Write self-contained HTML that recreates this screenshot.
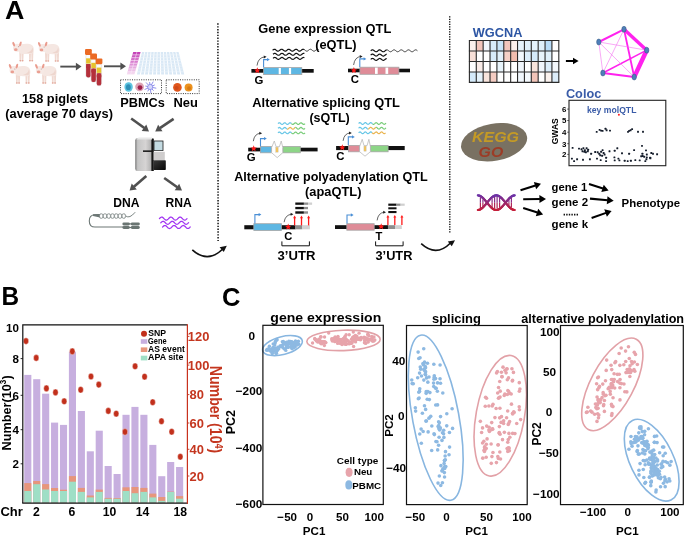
<!DOCTYPE html>
<html><head><meta charset="utf-8"><style>
html,body{margin:0;padding:0;background:#fff;width:685px;height:536px;overflow:hidden;}
svg{display:block;font-family:"Liberation Sans", sans-serif;filter:blur(0.25px);}
</style></head><body><svg width="685" height="536" viewBox="0 0 685 536" font-family='"Liberation Sans", sans-serif'><text x="5.0" y="19" font-size="25" font-weight="bold" font-style="normal" fill="#000" text-anchor="start" textLength="19.4" lengthAdjust="spacingAndGlyphs" >A</text><text x="1.6" y="305.2" font-size="25" font-weight="bold" font-style="normal" fill="#000" text-anchor="start" textLength="17.6" lengthAdjust="spacingAndGlyphs" >B</text><text x="222.0" y="306.1" font-size="25" font-weight="bold" font-style="normal" fill="#000" text-anchor="start" textLength="18.4" lengthAdjust="spacingAndGlyphs" >C</text><g transform="translate(11.5,40.8) scale(1.0)"><path d="M7.8 11.5 L10.0 11.5 L9.6 20.3 L8.1 20.3 Z" fill="#f0d9d1"/><ellipse cx="8.85" cy="20.0" rx="1.0" ry="0.7" fill="#e2a597"/><path d="M10.0 11.5 L12.2 11.5 L11.8 20.3 L10.3 20.3 Z" fill="#f0d9d1"/><ellipse cx="11.05" cy="20.0" rx="1.0" ry="0.7" fill="#e2a597"/><path d="M17.4 10.8 L19.599999999999998 10.8 L19.2 20.3 L17.7 20.3 Z" fill="#f0d9d1"/><ellipse cx="18.45" cy="20.0" rx="1.0" ry="0.7" fill="#e2a597"/><path d="M19.7 10.8 L21.9 10.8 L21.5 20.3 L20.0 20.3 Z" fill="#f0d9d1"/><ellipse cx="20.75" cy="20.0" rx="1.0" ry="0.7" fill="#e2a597"/><path d="M6.5 5.2 C9.5 2.6 17.5 2.0 20.6 4.4 C22.8 6.3 22.8 10.6 21.2 12.4 C18 13.6 12 13.4 8.6 12.6 C6.8 10.8 6 7.5 6.5 5.2 Z" fill="#f5e7e2"/><path d="M15 11.8 C18 12.4 20 12.2 21.2 11.6 C21.9 9.6 21.6 7.6 20.8 6.6 C20.4 9.5 18.5 11 15 11.8 Z" fill="#eed6ce"/><ellipse cx="5.6" cy="7.0" rx="4.1" ry="4.0" fill="#f6e9e5"/><ellipse cx="2.2" cy="3.4" rx="1.1" ry="2.5" transform="rotate(-22 2.2 3.4)" fill="#ea9c8e"/><ellipse cx="8.9" cy="3.2" rx="1.1" ry="2.5" transform="rotate(18 8.9 3.2)" fill="#ea9c8e"/><ellipse cx="4.3" cy="8.9" rx="1.8" ry="1.35" fill="#ea9f92"/><circle cx="6.9" cy="6.0" r="0.45" fill="#8a6a64"/></g><g transform="translate(37.2,41.0) scale(1.0)"><path d="M7.8 11.5 L10.0 11.5 L9.6 20.3 L8.1 20.3 Z" fill="#f0d9d1"/><ellipse cx="8.85" cy="20.0" rx="1.0" ry="0.7" fill="#e2a597"/><path d="M10.0 11.5 L12.2 11.5 L11.8 20.3 L10.3 20.3 Z" fill="#f0d9d1"/><ellipse cx="11.05" cy="20.0" rx="1.0" ry="0.7" fill="#e2a597"/><path d="M17.4 10.8 L19.599999999999998 10.8 L19.2 20.3 L17.7 20.3 Z" fill="#f0d9d1"/><ellipse cx="18.45" cy="20.0" rx="1.0" ry="0.7" fill="#e2a597"/><path d="M19.7 10.8 L21.9 10.8 L21.5 20.3 L20.0 20.3 Z" fill="#f0d9d1"/><ellipse cx="20.75" cy="20.0" rx="1.0" ry="0.7" fill="#e2a597"/><path d="M6.5 5.2 C9.5 2.6 17.5 2.0 20.6 4.4 C22.8 6.3 22.8 10.6 21.2 12.4 C18 13.6 12 13.4 8.6 12.6 C6.8 10.8 6 7.5 6.5 5.2 Z" fill="#f5e7e2"/><path d="M15 11.8 C18 12.4 20 12.2 21.2 11.6 C21.9 9.6 21.6 7.6 20.8 6.6 C20.4 9.5 18.5 11 15 11.8 Z" fill="#eed6ce"/><ellipse cx="5.6" cy="7.0" rx="4.1" ry="4.0" fill="#f6e9e5"/><ellipse cx="2.2" cy="3.4" rx="1.1" ry="2.5" transform="rotate(-22 2.2 3.4)" fill="#ea9c8e"/><ellipse cx="8.9" cy="3.2" rx="1.1" ry="2.5" transform="rotate(18 8.9 3.2)" fill="#ea9c8e"/><ellipse cx="4.3" cy="8.9" rx="1.8" ry="1.35" fill="#ea9f92"/><circle cx="6.9" cy="6.0" r="0.45" fill="#8a6a64"/></g><g transform="translate(8.0,63.0) scale(1.0)"><path d="M7.8 11.5 L10.0 11.5 L9.6 20.3 L8.1 20.3 Z" fill="#f0d9d1"/><ellipse cx="8.85" cy="20.0" rx="1.0" ry="0.7" fill="#e2a597"/><path d="M10.0 11.5 L12.2 11.5 L11.8 20.3 L10.3 20.3 Z" fill="#f0d9d1"/><ellipse cx="11.05" cy="20.0" rx="1.0" ry="0.7" fill="#e2a597"/><path d="M17.4 10.8 L19.599999999999998 10.8 L19.2 20.3 L17.7 20.3 Z" fill="#f0d9d1"/><ellipse cx="18.45" cy="20.0" rx="1.0" ry="0.7" fill="#e2a597"/><path d="M19.7 10.8 L21.9 10.8 L21.5 20.3 L20.0 20.3 Z" fill="#f0d9d1"/><ellipse cx="20.75" cy="20.0" rx="1.0" ry="0.7" fill="#e2a597"/><path d="M6.5 5.2 C9.5 2.6 17.5 2.0 20.6 4.4 C22.8 6.3 22.8 10.6 21.2 12.4 C18 13.6 12 13.4 8.6 12.6 C6.8 10.8 6 7.5 6.5 5.2 Z" fill="#f5e7e2"/><path d="M15 11.8 C18 12.4 20 12.2 21.2 11.6 C21.9 9.6 21.6 7.6 20.8 6.6 C20.4 9.5 18.5 11 15 11.8 Z" fill="#eed6ce"/><ellipse cx="5.6" cy="7.0" rx="4.1" ry="4.0" fill="#f6e9e5"/><ellipse cx="2.2" cy="3.4" rx="1.1" ry="2.5" transform="rotate(-22 2.2 3.4)" fill="#ea9c8e"/><ellipse cx="8.9" cy="3.2" rx="1.1" ry="2.5" transform="rotate(18 8.9 3.2)" fill="#ea9c8e"/><ellipse cx="4.3" cy="8.9" rx="1.8" ry="1.35" fill="#ea9f92"/><circle cx="6.9" cy="6.0" r="0.45" fill="#8a6a64"/></g><g transform="translate(34.3,63.0) scale(1.0)"><path d="M7.8 11.5 L10.0 11.5 L9.6 20.3 L8.1 20.3 Z" fill="#f0d9d1"/><ellipse cx="8.85" cy="20.0" rx="1.0" ry="0.7" fill="#e2a597"/><path d="M10.0 11.5 L12.2 11.5 L11.8 20.3 L10.3 20.3 Z" fill="#f0d9d1"/><ellipse cx="11.05" cy="20.0" rx="1.0" ry="0.7" fill="#e2a597"/><path d="M17.4 10.8 L19.599999999999998 10.8 L19.2 20.3 L17.7 20.3 Z" fill="#f0d9d1"/><ellipse cx="18.45" cy="20.0" rx="1.0" ry="0.7" fill="#e2a597"/><path d="M19.7 10.8 L21.9 10.8 L21.5 20.3 L20.0 20.3 Z" fill="#f0d9d1"/><ellipse cx="20.75" cy="20.0" rx="1.0" ry="0.7" fill="#e2a597"/><path d="M6.5 5.2 C9.5 2.6 17.5 2.0 20.6 4.4 C22.8 6.3 22.8 10.6 21.2 12.4 C18 13.6 12 13.4 8.6 12.6 C6.8 10.8 6 7.5 6.5 5.2 Z" fill="#f5e7e2"/><path d="M15 11.8 C18 12.4 20 12.2 21.2 11.6 C21.9 9.6 21.6 7.6 20.8 6.6 C20.4 9.5 18.5 11 15 11.8 Z" fill="#eed6ce"/><ellipse cx="5.6" cy="7.0" rx="4.1" ry="4.0" fill="#f6e9e5"/><ellipse cx="2.2" cy="3.4" rx="1.1" ry="2.5" transform="rotate(-22 2.2 3.4)" fill="#ea9c8e"/><ellipse cx="8.9" cy="3.2" rx="1.1" ry="2.5" transform="rotate(18 8.9 3.2)" fill="#ea9c8e"/><ellipse cx="4.3" cy="8.9" rx="1.8" ry="1.35" fill="#ea9f92"/><circle cx="6.9" cy="6.0" r="0.45" fill="#8a6a64"/></g><line x1="60.30" y1="66.60" x2="76.40" y2="66.60" stroke="#505050" stroke-width="1.9"/><polygon points="81.50,66.60 75.90,70.40 75.90,62.80" fill="#505050"/><rect x="85.8" y="54.1" width="5.2" height="23.5" rx="2.3" fill="#fafafa" stroke="#d8d8d8" stroke-width="0.5"/><rect x="86.1" y="64.0" width="4.6" height="13.4" rx="2.2" fill="#b4303b"/><rect x="86.1" y="64.0" width="4.6" height="4" fill="#b4303b"/><rect x="86.1" y="58.3" width="4.6" height="5.3" fill="#e6c22f"/><rect x="85.0" y="49.1" width="6.8" height="5.8" rx="1.1" fill="#eb6a24"/><rect x="91.0" y="58.6" width="5.2" height="23.7" rx="2.3" fill="#fafafa" stroke="#d8d8d8" stroke-width="0.5"/><rect x="91.3" y="68.5" width="4.6" height="13.6" rx="2.2" fill="#b4303b"/><rect x="91.3" y="68.5" width="4.6" height="4" fill="#b4303b"/><rect x="91.3" y="62.8" width="4.6" height="5.3" fill="#e6c22f"/><rect x="90.2" y="53.6" width="6.8" height="5.8" rx="1.1" fill="#eb6a24"/><rect x="96.39999999999999" y="63.4" width="5.2" height="22.4" rx="2.3" fill="#fafafa" stroke="#d8d8d8" stroke-width="0.5"/><rect x="96.69999999999999" y="73.3" width="4.6" height="12.299999999999999" rx="2.2" fill="#b4303b"/><rect x="96.69999999999999" y="73.3" width="4.6" height="4" fill="#b4303b"/><rect x="96.69999999999999" y="67.6" width="4.6" height="5.3" fill="#e6c22f"/><rect x="95.6" y="58.4" width="6.8" height="5.8" rx="1.1" fill="#eb6a24"/><line x1="104.00" y1="66.30" x2="120.90" y2="66.30" stroke="#505050" stroke-width="1.9"/><polygon points="126.00,66.30 120.40,70.10 120.40,62.50" fill="#505050"/><defs><linearGradient id="plg" x1="0" y1="0" x2="0" y2="1"><stop offset="0" stop-color="#c23cb4"/><stop offset="0.5" stop-color="#dc8ad4"/><stop offset="1" stop-color="#f6e0f2"/></linearGradient></defs><polygon points="142.05,52.0 144.35,52.0 139.85,74.6 136.95,74.6" fill="#d9e8f5"/><polygon points="145.16,52.0 147.46,52.0 143.89,74.6 140.99,74.6" fill="#d9e8f5"/><polygon points="148.27,52.0 150.57,52.0 147.92,74.6 145.02,74.6" fill="#d9e8f5"/><polygon points="151.38,52.0 153.68,52.0 151.96,74.6 149.06,74.6" fill="#d9e8f5"/><polygon points="154.49,52.0 156.79,52.0 156.00,74.6 153.10,74.6" fill="#d9e8f5"/><polygon points="157.60,52.0 159.90,52.0 160.03,74.6 157.13,74.6" fill="#d9e8f5"/><polygon points="160.70,52.0 163.00,52.0 164.07,74.6 161.17,74.6" fill="#d9e8f5"/><polygon points="163.81,52.0 166.11,52.0 168.10,74.6 165.20,74.6" fill="#d9e8f5"/><polygon points="166.92,52.0 169.22,52.0 172.14,74.6 169.24,74.6" fill="#d9e8f5"/><polygon points="170.03,52.0 172.33,52.0 176.18,74.6 173.28,74.6" fill="#d9e8f5"/><polygon points="173.14,52.0 175.44,52.0 180.21,74.6 177.31,74.6" fill="#d9e8f5"/><polygon points="176.25,52.0 178.55,52.0 184.25,74.6 181.35,74.6" fill="#d9e8f5"/><line x1="140.89" y1="54.83" x2="179.70" y2="54.83" stroke="#eef5fb" stroke-width="0.6"/><line x1="140.28" y1="57.65" x2="180.40" y2="57.65" stroke="#eef5fb" stroke-width="0.6"/><line x1="139.66" y1="60.47" x2="181.10" y2="60.47" stroke="#eef5fb" stroke-width="0.6"/><line x1="139.05" y1="63.30" x2="181.80" y2="63.30" stroke="#eef5fb" stroke-width="0.6"/><line x1="138.44" y1="66.12" x2="182.50" y2="66.12" stroke="#eef5fb" stroke-width="0.6"/><line x1="137.82" y1="68.95" x2="183.20" y2="68.95" stroke="#eef5fb" stroke-width="0.6"/><line x1="137.21" y1="71.77" x2="183.90" y2="71.77" stroke="#eef5fb" stroke-width="0.6"/><polygon points="133.2,52.0 140.6,52.0 134.4,74.6 126.8,74.6" fill="url(#plg)"/><line x1="132.40" y1="54.83" x2="139.82" y2="54.83" stroke="#fbeefa" stroke-width="0.6"/><line x1="131.60" y1="57.65" x2="139.05" y2="57.65" stroke="#fbeefa" stroke-width="0.6"/><line x1="130.80" y1="60.47" x2="138.28" y2="60.47" stroke="#fbeefa" stroke-width="0.6"/><line x1="130.00" y1="63.30" x2="137.50" y2="63.30" stroke="#fbeefa" stroke-width="0.6"/><line x1="129.20" y1="66.12" x2="136.72" y2="66.12" stroke="#fbeefa" stroke-width="0.6"/><line x1="128.40" y1="68.95" x2="135.95" y2="68.95" stroke="#fbeefa" stroke-width="0.6"/><line x1="127.60" y1="71.77" x2="135.18" y2="71.77" stroke="#fbeefa" stroke-width="0.6"/><line x1="136.9" y1="52" x2="130.6" y2="74.6" stroke="#fbeefa" stroke-width="0.5"/><rect x="120.5" y="79.8" width="41" height="13.8" fill="none" stroke="#333" stroke-width="1" stroke-dasharray="1 1.3"/><rect x="166.2" y="79.8" width="33" height="13.8" fill="none" stroke="#333" stroke-width="1" stroke-dasharray="1 1.3"/><ellipse cx="128.6" cy="87" rx="4.2" ry="4.8" fill="#5ec4e0"/><ellipse cx="128.4" cy="87.2" rx="2.4" ry="2.9" fill="#2f8fb6"/><circle cx="139.6" cy="86.8" r="4.4" fill="#dca3b5"/><circle cx="140" cy="87.6" r="2.4" fill="#9e1f4b"/><line x1="150.2" y1="87" x2="156.28" y2="88.23" stroke="#7474e4" stroke-width="0.8"/><line x1="150.2" y1="87" x2="153.58" y2="90.68" stroke="#7474e4" stroke-width="0.8"/><line x1="150.2" y1="87" x2="150.91" y2="93.16" stroke="#7474e4" stroke-width="0.8"/><line x1="150.2" y1="87" x2="147.74" y2="91.35" stroke="#7474e4" stroke-width="0.8"/><line x1="150.2" y1="87" x2="144.56" y2="89.58" stroke="#7474e4" stroke-width="0.8"/><line x1="150.2" y1="87" x2="145.30" y2="86.01" stroke="#7474e4" stroke-width="0.8"/><line x1="150.2" y1="87" x2="146.01" y2="82.43" stroke="#7474e4" stroke-width="0.8"/><line x1="150.2" y1="87" x2="149.63" y2="82.03" stroke="#7474e4" stroke-width="0.8"/><line x1="150.2" y1="87" x2="153.25" y2="81.60" stroke="#7474e4" stroke-width="0.8"/><line x1="150.2" y1="87" x2="154.75" y2="84.92" stroke="#7474e4" stroke-width="0.8"/><circle cx="150.2" cy="87" r="2.6" fill="#d6d8fa" stroke="#7c7ce6" stroke-width="0.7"/><circle cx="177.4" cy="87.4" r="4.3" fill="#e0561c"/><circle cx="176.6" cy="88" r="2" fill="#c8441a" opacity="0.7"/><circle cx="188.6" cy="87.4" r="4.0" fill="#ec921e"/><circle cx="189" cy="88.2" r="1.9" fill="#d27410" opacity="0.8"/><text x="22.0" y="103.4" font-size="12.6" font-weight="bold" font-style="normal" fill="#000" text-anchor="start" textLength="66.0" lengthAdjust="spacingAndGlyphs" >158 piglets</text><text x="5.3" y="118.0" font-size="12.7" font-weight="bold" font-style="normal" fill="#000" text-anchor="start" textLength="107.6" lengthAdjust="spacingAndGlyphs" >(average 70 days)</text><text x="120.2" y="107.1" font-size="12.4" font-weight="bold" font-style="normal" fill="#000" text-anchor="start" textLength="44.6" lengthAdjust="spacingAndGlyphs" >PBMCs</text><text x="173.4" y="107.1" font-size="12.5" font-weight="bold" font-style="normal" fill="#000" text-anchor="start" textLength="24.4" lengthAdjust="spacingAndGlyphs" >Neu</text><line x1="131.20" y1="118.50" x2="144.38" y2="128.06" stroke="#505050" stroke-width="2.6"/><polygon points="149.00,131.40 141.69,130.92 146.27,124.60" fill="#505050"/><line x1="173.60" y1="118.90" x2="159.91" y2="128.20" stroke="#505050" stroke-width="2.6"/><polygon points="155.20,131.40 158.14,124.69 162.52,131.14" fill="#505050"/>
<defs>
<linearGradient id="sqg" x1="0" x2="1" y1="0" y2="0">
<stop offset="0" stop-color="#7a7a7a"/><stop offset="0.14" stop-color="#c4c4c4"/><stop offset="0.6" stop-color="#d6d4d4"/><stop offset="1" stop-color="#a9a9a9"/></linearGradient>
<linearGradient id="sqb" x1="0" x2="1" y1="0" y2="1">
<stop offset="0" stop-color="#3a3a3a"/><stop offset="1" stop-color="#050505"/></linearGradient>
</defs>
<path d="M135.2 140.5 Q135.2 138 137.5 138 L152.6 138 L152.6 171 L137.5 171 Q135.2 171 135.2 168.5 Z" fill="url(#sqg)"/>
<rect x="151.4" y="138.6" width="2.4" height="32.4" fill="#151515"/>
<rect x="153.6" y="140.6" width="9.8" height="10.3" fill="#1a1a1a"/>
<rect x="154.4" y="141.4" width="8.2" height="8.8" fill="#c4dbe2"/>
<rect x="153.6" y="151.8" width="11.2" height="8.2" fill="#cfcdcd"/>
<rect x="153.6" y="160.2" width="12.2" height="9.8" rx="0.8" fill="url(#sqb)"/>
<rect x="143" y="150.4" width="9" height="1.5" fill="#111"/>
<path d="M136.5 139.2 L138.6 137.6 L152 137.6 L152 139.6 L137 139.6 Z" fill="#e8e8e8"/>
<line x1="146.30" y1="176.00" x2="133.89" y2="186.85" stroke="#505050" stroke-width="2.6"/><polygon points="129.60,190.60 131.70,183.58 136.83,189.46" fill="#505050"/><line x1="164.20" y1="178.00" x2="177.35" y2="187.31" stroke="#505050" stroke-width="2.6"/><polygon points="182.00,190.60 174.69,190.20 179.19,183.83" fill="#505050"/><text x="113.2" y="206.8" font-size="12.1" font-weight="bold" font-style="normal" fill="#000" text-anchor="start" >DNA</text><text x="165.6" y="206.8" font-size="12.1" font-weight="bold" font-style="normal" fill="#000" text-anchor="start" >RNA</text><g stroke="#6c7775" fill="none"><path d="M100 214.8 L95 214.8 Q89.3 214.8 89.3 220.9 Q89.3 227 95 227 L123 227" stroke-width="1.1"/><path d="M93 214.3 L100 213.9 L100 217.6 L93 216" fill="#6c7775" stroke="none"/><rect x="99.60" y="213.8" width="3.3" height="4.5" rx="1.4" fill="#fff" stroke-width="0.75"/><rect x="103.35" y="213.8" width="3.3" height="4.5" rx="1.4" fill="#fff" stroke-width="0.75"/><rect x="107.10" y="213.8" width="3.3" height="4.5" rx="1.4" fill="#fff" stroke-width="0.75"/><rect x="110.85" y="213.8" width="3.3" height="4.5" rx="1.4" fill="#fff" stroke-width="0.75"/><rect x="114.60" y="213.8" width="3.3" height="4.5" rx="1.4" fill="#fff" stroke-width="0.75"/><rect x="118.35" y="213.8" width="3.3" height="4.5" rx="1.4" fill="#fff" stroke-width="0.75"/><rect x="122.10" y="213.8" width="3.3" height="4.5" rx="1.4" fill="#fff" stroke-width="0.75"/><path d="M125.8 216.0 Q129.5 219.0 135.2 212.2" stroke-width="0.9"/></g><g fill="#6a7572"><rect x="122.4" y="222.4" width="7.4" height="3.0" rx="1.4"/><rect x="130.8" y="222.4" width="9.0" height="3.0" rx="1.4"/><rect x="122.4" y="226.0" width="7.4" height="3.0" rx="1.4"/><rect x="130.8" y="226.0" width="9.0" height="3.0" rx="1.4"/><rect x="129" y="223.3" width="2.6" height="1.2"/><rect x="129" y="226.9" width="2.6" height="1.2"/></g><polyline points="159.40,218.60 159.81,218.19 160.21,217.81 160.62,217.49 161.02,217.26 161.43,217.13 161.84,217.11 162.24,217.20 162.65,217.40 163.05,217.70 163.46,218.06 163.86,218.46 164.27,218.88 164.68,219.27 165.08,219.61 165.49,219.88 165.89,220.04 166.30,220.10 166.71,220.04 167.11,219.88 167.52,219.61 167.92,219.27 168.33,218.88 168.74,218.46 169.14,218.06 169.55,217.70 169.95,217.40 170.36,217.20 170.76,217.11 171.17,217.13 171.58,217.26 171.98,217.49 172.39,217.81 172.79,218.19 173.20,218.60 173.61,219.01 174.01,219.39 174.42,219.71 174.82,219.94 175.23,220.07 175.64,220.09 176.04,220.00 176.45,219.80 176.85,219.50 177.26,219.14 177.66,218.74 178.07,218.32 178.48,217.93 178.88,217.59 179.29,217.32 179.69,217.16 180.10,217.10 180.51,217.16 180.91,217.32 181.32,217.59 181.72,217.93 182.13,218.32 182.54,218.74 182.94,219.14 183.35,219.50 183.75,219.80 184.16,220.00 184.56,220.09 184.97,220.07 185.38,219.94 185.78,219.71 186.19,219.39 186.59,219.01 187.00,218.60" fill="none" stroke="#a133f2" stroke-width="1.25" stroke-linecap="round"/><polyline points="160.80,222.80 161.20,222.39 161.61,222.02 162.01,221.70 162.41,221.46 162.81,221.33 163.22,221.30 163.62,221.39 164.02,221.59 164.43,221.87 164.83,222.23 165.23,222.63 165.63,223.04 166.04,223.43 166.44,223.78 166.84,224.05 167.25,224.23 167.65,224.30 168.05,224.26 168.46,224.10 168.86,223.85 169.26,223.53 169.66,223.14 170.07,222.73 170.47,222.33 170.87,221.96 171.28,221.65 171.68,221.43 172.08,221.32 172.48,221.31 172.89,221.42 173.29,221.63 173.69,221.93 174.10,222.29 174.50,222.70 174.90,223.11 175.30,223.49 175.71,223.83 176.11,224.09 176.51,224.25 176.92,224.30 177.32,224.24 177.72,224.07 178.12,223.81 178.53,223.46 178.93,223.07 179.33,222.66 179.74,222.26 180.14,221.90 180.54,221.61 180.94,221.41 181.35,221.31 181.75,221.32 182.15,221.45 182.56,221.67 182.96,221.99 183.36,222.36 183.77,222.76 184.17,223.17 184.57,223.55 184.97,223.88 185.38,224.12 185.78,224.26 186.18,224.30 186.59,224.22 186.99,224.03 187.39,223.75 187.79,223.40 188.20,223.01 188.60,222.60" fill="none" stroke="#a133f2" stroke-width="1.25" stroke-linecap="round"/><polyline points="162.60,227.00 163.01,226.59 163.41,226.21 163.82,225.89 164.22,225.66 164.63,225.53 165.04,225.51 165.44,225.60 165.85,225.80 166.25,226.10 166.66,226.46 167.06,226.86 167.47,227.28 167.88,227.67 168.28,228.01 168.69,228.28 169.09,228.44 169.50,228.50 169.91,228.44 170.31,228.28 170.72,228.01 171.12,227.67 171.53,227.28 171.94,226.86 172.34,226.46 172.75,226.10 173.15,225.80 173.56,225.60 173.96,225.51 174.37,225.53 174.78,225.66 175.18,225.89 175.59,226.21 175.99,226.59 176.40,227.00 176.81,227.41 177.21,227.79 177.62,228.11 178.02,228.34 178.43,228.47 178.84,228.49 179.24,228.40 179.65,228.20 180.05,227.90 180.46,227.54 180.86,227.14 181.27,226.72 181.68,226.33 182.08,225.99 182.49,225.72 182.89,225.56 183.30,225.50 183.71,225.56 184.11,225.72 184.52,225.99 184.92,226.33 185.33,226.72 185.74,227.14 186.14,227.54 186.55,227.90 186.95,228.20 187.36,228.40 187.76,228.49 188.17,228.47 188.58,228.34 188.98,228.11 189.39,227.79 189.79,227.41 190.20,227.00" fill="none" stroke="#a133f2" stroke-width="1.25" stroke-linecap="round"/><line x1="217.9" y1="23.3" x2="218.1" y2="241" stroke="#111" stroke-width="1.5" stroke-dasharray="1.4 1.45"/><line x1="449.7" y1="16.2" x2="449.8" y2="233.8" stroke="#111" stroke-width="1.4" stroke-dasharray="1.2 1.3"/><path d="M192.3 249.8 Q207.60 263.70 222.5 249.2" fill="none" stroke="#111" stroke-width="1.6"/><polygon points="226.8,245.8 219.6,247.2 223.8,252.0" fill="#111"/><path d="M421.2 243.7 Q436.15 257.45 450.5 243.0" fill="none" stroke="#111" stroke-width="1.6"/><polygon points="455.0,240.2 447.8,241.4 451.8,246.2" fill="#111"/><text x="258.3" y="32.5" font-size="12.6" font-weight="bold" font-style="normal" fill="#000" text-anchor="start" textLength="133.0" lengthAdjust="spacingAndGlyphs" >Gene expression QTL</text><text x="315.2" y="48.6" font-size="12.6" font-weight="bold" font-style="normal" fill="#000" text-anchor="start" textLength="41.3" lengthAdjust="spacingAndGlyphs" >(eQTL)</text><text x="252.3" y="106.6" font-size="12.6" font-weight="bold" font-style="normal" fill="#000" text-anchor="start" textLength="147.6" lengthAdjust="spacingAndGlyphs" >Alternative splicing QTL</text><text x="309.4" y="122.3" font-size="12.6" font-weight="bold" font-style="normal" fill="#000" text-anchor="start" textLength="40.4" lengthAdjust="spacingAndGlyphs" >(sQTL)</text><text x="234.2" y="181.0" font-size="12.6" font-weight="bold" font-style="normal" fill="#000" text-anchor="start" textLength="193.6" lengthAdjust="spacingAndGlyphs" >Alternative polyadenylation QTL</text><text x="305.1" y="196.1" font-size="12.6" font-weight="bold" font-style="normal" fill="#000" text-anchor="start" textLength="56.4" lengthAdjust="spacingAndGlyphs" >(apaQTL)</text><rect x="251.4" y="69.0" width="62.3" height="3.7" fill="#111"/><rect x="263.60" y="67.60" width="38.20" height="7.00" fill="#5eb7e3" stroke="#a6a6a6" stroke-width="0.8"/><rect x="278.7" y="68.0" width="2.2" height="6.2" fill="#fff"/><rect x="288.9" y="68.0" width="2.2" height="6.2" fill="#fff"/><polygon points="257.30,67.30 258.17,69.40 260.44,69.58 258.71,71.06 259.24,73.27 257.30,72.08 255.36,73.27 255.89,71.06 254.16,69.58 256.43,69.40" fill="#ff1a1a"/><path d="M263.6 67.3 L263.6 59.6 L267.6 59.6" fill="none" stroke="#4a8fd6" stroke-width="1.1"/><polygon points="269.8,59.6 267.0,57.9 267.0,61.300000000000004" fill="#4a8fd6"/><path d="M257.0 65.6 Q258.15 57.24 265.10 56.88" fill="none" stroke="#222" stroke-width="0.7"/><polygon points="266.60,56.80 263.88,58.44 263.73,55.45" fill="#222"/><text x="254.6" y="83.6" font-size="11.4" font-weight="bold" font-style="normal" fill="#000" text-anchor="start" >G</text><polyline points="272.60,50.20 272.95,49.91 273.31,49.65 273.66,49.44 274.01,49.30 274.37,49.25 274.72,49.29 275.07,49.41 275.43,49.61 275.78,49.86 276.13,50.14 276.49,50.44 276.84,50.70 277.19,50.92 277.55,51.08 277.90,51.15 278.25,51.13 278.61,51.02 278.96,50.84 279.31,50.59 279.67,50.31 280.02,50.02 280.37,49.74 280.73,49.51 281.08,49.35 281.43,49.26 281.79,49.26 282.14,49.35 282.49,49.52 282.85,49.76 283.20,50.04 283.55,50.33 283.91,50.61 284.26,50.85 284.61,51.03 284.97,51.13 285.32,51.14 285.67,51.07 286.03,50.91 286.38,50.69 286.73,50.42 287.09,50.13 287.44,49.84 287.79,49.59 288.15,49.40 288.50,49.28 288.85,49.25 289.21,49.31 289.56,49.45 289.91,49.66 290.27,49.93 290.62,50.22 290.97,50.50 291.33,50.76 291.68,50.97 292.03,51.10 292.39,51.15 292.74,51.11 293.09,50.98 293.45,50.78 293.80,50.52 294.15,50.24 294.51,49.95 294.86,49.68 295.21,49.47 295.57,49.32 295.92,49.25 296.27,49.28 296.63,49.39 296.98,49.58 297.33,49.82 297.69,50.11 298.04,50.40 298.39,50.67 298.75,50.90 299.10,51.06 299.45,51.14 299.81,51.13 300.16,51.04 300.51,50.86 300.87,50.63 301.22,50.35 301.57,50.06 301.93,49.78 302.28,49.54 302.63,49.36 302.99,49.27 303.34,49.26 303.69,49.34 304.05,49.50 304.40,49.72" fill="none" stroke="#111" stroke-width="1.2"/><polyline points="304.40,49.73 304.75,50.00 305.11,50.29 305.46,50.58 305.82,50.82 306.17,51.01 306.53,51.12 306.88,51.15 307.24,51.08 307.59,50.93 307.95,50.71 308.31,50.44 308.66,50.15 309.01,49.86 309.37,49.61 309.73,49.41 310.08,49.29 310.44,49.25 310.79,49.30 311.14,49.44 311.50,49.66 311.86,49.92 312.21,50.21 312.56,50.50 312.92,50.76 313.27,50.97 313.63,51.10 313.99,51.15 314.34,51.11 314.69,50.98 315.05,50.78 315.41,50.52 315.76,50.23 316.12,49.94 316.47,49.68 316.83,49.46 317.18,49.31 317.54,49.25 317.89,49.28 318.25,49.40 318.60,49.59" fill="none" stroke="#111" stroke-width="0.85"/><polyline points="273.00,54.30 273.35,54.01 273.71,53.75 274.06,53.54 274.41,53.40 274.76,53.35 275.12,53.39 275.47,53.51 275.82,53.70 276.18,53.96 276.53,54.24 276.88,54.53 277.23,54.80 277.59,55.02 277.94,55.17 278.29,55.25 278.64,55.23 279.00,55.12 279.35,54.94 279.70,54.70 280.06,54.42 280.41,54.13 280.76,53.85 281.11,53.62 281.47,53.45 281.82,53.36 282.17,53.36 282.53,53.45 282.88,53.62 283.23,53.85 283.58,54.12 283.94,54.41 284.29,54.69 284.64,54.94 285.00,55.12 285.35,55.23 285.70,55.25 286.05,55.18 286.41,55.02 286.76,54.80 287.11,54.54 287.47,54.25 287.82,53.96 288.17,53.71 288.52,53.51 288.88,53.39 289.23,53.35 289.58,53.40 289.93,53.54 290.29,53.75 290.64,54.01 290.99,54.29 291.35,54.58 291.70,54.84 292.05,55.05 292.40,55.19 292.76,55.25 293.11,55.22 293.46,55.10 293.82,54.90 294.17,54.65 294.52,54.37 294.87,54.07 295.23,53.81 295.58,53.58 295.93,53.43 296.29,53.35 296.64,53.37 296.99,53.47 297.34,53.65 297.70,53.90 298.05,54.18 298.40,54.47 298.76,54.74 299.11,54.98 299.46,55.15 299.81,55.24 300.17,55.24 300.52,55.15 300.87,54.99 301.22,54.76 301.58,54.48 301.93,54.19 302.28,53.91 302.64,53.67 302.99,53.48 303.34,53.37 303.69,53.35 304.05,53.42 304.40,53.57" fill="none" stroke="#111" stroke-width="1.2"/><polyline points="273.00,58.40 273.35,58.11 273.71,57.85 274.06,57.64 274.41,57.50 274.76,57.45 275.12,57.49 275.47,57.61 275.82,57.80 276.18,58.06 276.53,58.34 276.88,58.63 277.23,58.90 277.59,59.12 277.94,59.27 278.29,59.35 278.64,59.33 279.00,59.22 279.35,59.04 279.70,58.80 280.06,58.52 280.41,58.23 280.76,57.95 281.11,57.72 281.47,57.55 281.82,57.46 282.17,57.46 282.53,57.55 282.88,57.72 283.23,57.95 283.58,58.22 283.94,58.51 284.29,58.79 284.64,59.04 285.00,59.22 285.35,59.33 285.70,59.35 286.05,59.28 286.41,59.12 286.76,58.90 287.11,58.64 287.47,58.35 287.82,58.06 288.17,57.81 288.52,57.61 288.88,57.49 289.23,57.45 289.58,57.50 289.93,57.64 290.29,57.85 290.64,58.11 290.99,58.39 291.35,58.68 291.70,58.94 292.05,59.15 292.40,59.29 292.76,59.35 293.11,59.32 293.46,59.20 293.82,59.00 294.17,58.75 294.52,58.47 294.87,58.17 295.23,57.91 295.58,57.68 295.93,57.53 296.29,57.45 296.64,57.47 296.99,57.57 297.34,57.75 297.70,58.00 298.05,58.28 298.40,58.57 298.76,58.84 299.11,59.08 299.46,59.25 299.81,59.34 300.17,59.34 300.52,59.25 300.87,59.09 301.22,58.86 301.58,58.58 301.93,58.29 302.28,58.01 302.64,57.77 302.99,57.58 303.34,57.47 303.69,57.45 304.05,57.52 304.40,57.67" fill="none" stroke="#111" stroke-width="1.2"/><rect x="348.0" y="68.7" width="62.0" height="3.6" fill="#111"/><rect x="359.90" y="67.20" width="39.00" height="7.10" fill="#df8c98" stroke="#a6a6a6" stroke-width="0.8"/><rect x="375.0" y="67.6" width="2.7" height="6.3" fill="#fff"/><rect x="385.5" y="67.6" width="2.7" height="6.3" fill="#fff"/><polygon points="353.90,67.10 354.77,69.20 357.04,69.38 355.31,70.86 355.84,73.07 353.90,71.89 351.96,73.07 352.49,70.86 350.76,69.38 353.03,69.20" fill="#ff1a1a"/><path d="M359.8 66.9 L359.8 58.9 L364.2 58.9" fill="none" stroke="#4a8fd6" stroke-width="1.1"/><polygon points="366.4,58.9 363.59999999999997,57.199999999999996 363.59999999999997,60.6" fill="#4a8fd6"/><path d="M353.6 65.0 Q354.68 56.83 361.10 56.48" fill="none" stroke="#222" stroke-width="0.7"/><polygon points="362.60,56.40 359.89,58.05 359.72,55.05" fill="#222"/><text x="350.7" y="82.9" font-size="11.4" font-weight="bold" font-style="normal" fill="#000" text-anchor="start" >C</text><polyline points="370.70,50.80 371.06,50.51 371.41,50.25 371.77,50.04 372.12,49.90 372.48,49.85 372.83,49.89 373.19,50.02 373.54,50.22 373.90,50.48 374.26,50.76 374.61,51.05 374.97,51.32 375.32,51.54 375.68,51.69 376.03,51.75 376.39,51.72 376.74,51.60 377.10,51.41 377.46,51.16 377.81,50.87 378.17,50.58 378.52,50.31 378.88,50.08 379.23,49.93 379.59,49.85 379.94,49.87 380.30,49.98 380.66,50.16 381.01,50.41 381.37,50.69 381.72,50.98 382.08,51.26 382.43,51.49 382.79,51.66 383.14,51.74 383.50,51.74 383.86,51.64 384.21,51.47 384.57,51.23 384.92,50.95 385.28,50.65 385.63,50.37 385.99,50.13 386.34,49.96 386.70,49.86" fill="none" stroke="#111" stroke-width="1.2"/><polyline points="386.70,49.86 387.05,49.86 387.41,49.94 387.76,50.10 388.11,50.33 388.46,50.61 388.82,50.90 389.17,51.18 389.52,51.43 389.88,51.61 390.23,51.72 390.58,51.75 390.93,51.68 391.29,51.53 391.64,51.32 391.99,51.05 392.35,50.76 392.70,50.48 393.05,50.22 393.40,50.02 393.76,49.89 394.11,49.85 394.46,49.90 394.82,50.03 395.17,50.23 395.52,50.49 395.87,50.78 396.23,51.07 396.58,51.33 396.93,51.55 397.29,51.69 397.64,51.75 397.99,51.72 398.34,51.60 398.70,51.41 399.05,51.16 399.40,50.88 399.76,50.59 400.11,50.32 400.46,50.09 400.81,49.93 401.17,49.86 401.52,49.87 401.87,49.97 402.23,50.14 402.58,50.38 402.93,50.66 403.29,50.95 403.64,51.23 403.99,51.47 404.34,51.64 404.70,51.74 405.05,51.74 405.40,51.66 405.76,51.50 406.11,51.27 406.46,51.00 406.81,50.71 407.17,50.42 407.52,50.18 407.87,49.99 408.23,49.88 408.58,49.85 408.93,49.92 409.28,50.06 409.64,50.28 409.99,50.55 410.34,50.84 410.70,51.12 411.05,51.38 411.40,51.58 411.75,51.71 412.11,51.75 412.46,51.70 412.81,51.57 413.17,51.37 413.52,51.11 413.87,50.82 414.22,50.53 414.58,50.27 414.93,50.06 415.28,49.91 415.64,49.85 415.99,49.88 416.34,49.99 416.69,50.19 417.05,50.43 417.40,50.72" fill="none" stroke="#111" stroke-width="0.85"/><polyline points="370.70,55.10 371.06,54.81 371.41,54.55 371.77,54.34 372.12,54.20 372.48,54.15 372.83,54.19 373.19,54.32 373.54,54.52 373.90,54.78 374.26,55.06 374.61,55.35 374.97,55.62 375.32,55.84 375.68,55.99 376.03,56.05 376.39,56.02 376.74,55.90 377.10,55.71 377.46,55.46 377.81,55.17 378.17,54.88 378.52,54.61 378.88,54.38 379.23,54.23 379.59,54.15 379.94,54.17 380.30,54.28 380.66,54.46 381.01,54.71 381.37,54.99 381.72,55.28 382.08,55.56 382.43,55.79 382.79,55.96 383.14,56.04 383.50,56.04 383.86,55.94 384.21,55.77 384.57,55.53 384.92,55.25 385.28,54.95 385.63,54.67 385.99,54.43 386.34,54.26 386.70,54.16" fill="none" stroke="#111" stroke-width="1.2"/><polyline points="370.70,59.40 371.06,59.11 371.41,58.85 371.77,58.64 372.12,58.50 372.48,58.45 372.83,58.49 373.19,58.62 373.54,58.82 373.90,59.08 374.26,59.36 374.61,59.65 374.97,59.92 375.32,60.14 375.68,60.29 376.03,60.35 376.39,60.32 376.74,60.20 377.10,60.01 377.46,59.76 377.81,59.47 378.17,59.18 378.52,58.91 378.88,58.68 379.23,58.53 379.59,58.45 379.94,58.47 380.30,58.58 380.66,58.76 381.01,59.01 381.37,59.29 381.72,59.58 382.08,59.86 382.43,60.09 382.79,60.26 383.14,60.34 383.50,60.34 383.86,60.24 384.21,60.07 384.57,59.83 384.92,59.55 385.28,59.25 385.63,58.97 385.99,58.73 386.34,58.56 386.70,58.46" fill="none" stroke="#111" stroke-width="1.2"/><rect x="248.2" y="147.7" width="69.4" height="3.7" fill="#111"/><rect x="260.50" y="146.50" width="10.90" height="6.30" fill="#5eb7e3" stroke="#a6a6a6" stroke-width="0.8"/><rect x="282.80" y="146.50" width="17.50" height="6.30" fill="#8dd587" stroke="#a6a6a6" stroke-width="0.8"/><polygon points="271.60,147.60 274.29,141.00 276.09,146.70 279.43,146.70 281.23,141.00 282.80,147.60 282.80,152.70 277.20,157.60 271.60,152.70" fill="#fff" stroke="#b0b0b0" stroke-width="0.7" stroke-linejoin="round"/><rect x="275.7" y="147.10" width="2.50" height="5.10" fill="#efc35e" stroke="#c8c8c8" stroke-width="0.4"/><polygon points="253.70,145.30 254.57,147.40 256.84,147.58 255.11,149.06 255.64,151.27 253.70,150.09 251.76,151.27 252.29,149.06 250.56,147.58 252.83,147.40" fill="#ff1a1a"/><path d="M260.5 146.2 L260.5 138.6 L264.6 138.6" fill="none" stroke="#4a8fd6" stroke-width="1.1"/><polygon points="266.8,138.6 264.0,136.9 264.0,140.29999999999998" fill="#4a8fd6"/><path d="M253.3 141.2 Q254.36 133.60 260.60 133.28" fill="none" stroke="#222" stroke-width="0.7"/><polygon points="262.10,133.20 259.38,134.84 259.23,131.85" fill="#222"/><text x="246.8" y="161.4" font-size="11.4" font-weight="bold" font-style="normal" fill="#000" text-anchor="start" >G</text><polyline points="278.00,123.60 278.36,123.26 278.71,122.97 279.07,122.80 279.42,122.75 279.78,122.85 280.13,123.08 280.49,123.39 280.84,123.74 281.20,124.06 281.55,124.31 281.91,124.44 282.26,124.42 282.62,124.27 282.97,124.00 283.33,123.67 283.68,123.32 284.04,123.02 284.39,122.82 284.75,122.75 285.11,122.82 285.46,123.02 285.82,123.32 286.17,123.67 286.53,124.00 286.88,124.27 287.24,124.42 287.59,124.44 287.95,124.31 288.30,124.06 288.66,123.74 289.01,123.39 289.37,123.08 289.72,122.85 290.08,122.75 290.43,122.80 290.79,122.97 291.14,123.26 291.50,123.60" fill="none" stroke="#66c6e6" stroke-width="1.2"/><polyline points="291.50,123.60 291.86,123.94 292.21,124.23 292.57,124.40 292.92,124.45 293.28,124.35 293.63,124.12 293.99,123.81 294.34,123.46 294.70,123.14 295.05,122.89 295.41,122.76 295.76,122.78 296.12,122.93 296.47,123.20 296.83,123.53 297.18,123.88 297.54,124.18 297.89,124.38 298.25,124.45 298.61,124.38 298.96,124.18 299.32,123.88 299.67,123.53 300.03,123.20 300.38,122.93 300.74,122.78 301.09,122.76 301.45,122.89 301.80,123.14 302.16,123.46 302.51,123.81 302.87,124.12 303.22,124.35 303.58,124.45 303.93,124.40 304.29,124.23 304.64,123.94 305.00,123.60" fill="none" stroke="#78cc78" stroke-width="1.2"/><polyline points="278.00,128.30 278.36,127.95 278.72,127.67 279.08,127.49 279.44,127.45 279.80,127.56 280.16,127.80 280.52,128.12 280.88,128.48 281.24,128.80 281.60,129.04 281.96,129.15 282.32,129.11 282.68,128.93 283.04,128.65 283.40,128.30 283.76,127.95 284.12,127.67 284.48,127.49 284.84,127.45 285.20,127.56 285.56,127.80 285.92,128.12 286.28,128.48 286.64,128.80 287.00,129.04" fill="none" stroke="#66c6e6" stroke-width="1.2"/><polyline points="287.00,129.04 287.36,129.14 287.71,129.11 288.07,128.94 288.43,128.66 288.78,128.32 289.14,127.97 289.50,127.68 289.85,127.50 290.21,127.45 290.57,127.55 290.92,127.77 291.28,128.08 291.63,128.43 291.99,128.76 292.35,129.01 292.70,129.14 293.06,129.12 293.42,128.97 293.77,128.70 294.13,128.37 294.49,128.02 294.84,127.72 295.20,127.52" fill="none" stroke="#eab450" stroke-width="1.2"/><polyline points="295.20,127.52 295.55,127.45 295.90,127.52 296.25,127.72 296.60,128.01 296.95,128.35 297.30,128.68 297.65,128.95 298.00,129.11 298.35,129.14 298.70,129.04 299.05,128.81 299.40,128.50 299.75,128.15 300.10,127.83 300.45,127.59 300.80,127.46 301.15,127.47 301.50,127.62 301.85,127.88 302.20,128.20 302.55,128.54 302.90,128.85 303.25,129.06 303.60,129.15 303.95,129.10 304.30,128.92 304.65,128.64 305.00,128.30" fill="none" stroke="#78cc78" stroke-width="1.2"/><polyline points="278.00,132.90 278.36,132.56 278.71,132.27 279.07,132.10 279.42,132.05 279.78,132.15 280.13,132.38 280.49,132.69 280.84,133.04 281.20,133.36 281.55,133.61 281.91,133.74 282.26,133.72 282.62,133.57 282.97,133.30 283.33,132.97 283.68,132.62 284.04,132.32 284.39,132.12 284.75,132.05 285.11,132.12 285.46,132.32 285.82,132.62 286.17,132.97 286.53,133.30 286.88,133.57 287.24,133.72 287.59,133.74 287.95,133.61 288.30,133.36 288.66,133.04 289.01,132.69 289.37,132.38 289.72,132.15 290.08,132.05 290.43,132.10 290.79,132.27 291.14,132.56 291.50,132.90" fill="none" stroke="#66c6e6" stroke-width="1.2"/><polyline points="291.50,132.90 291.86,133.24 292.21,133.53 292.57,133.70 292.92,133.75 293.28,133.65 293.63,133.42 293.99,133.11 294.34,132.76 294.70,132.44 295.05,132.19 295.41,132.06 295.76,132.08 296.12,132.23 296.47,132.50 296.83,132.83 297.18,133.18 297.54,133.48 297.89,133.68 298.25,133.75 298.61,133.68 298.96,133.48 299.32,133.18 299.67,132.83 300.03,132.50 300.38,132.23 300.74,132.08 301.09,132.06 301.45,132.19 301.80,132.44 302.16,132.76 302.51,133.11 302.87,133.42 303.22,133.65 303.58,133.75 303.93,133.70 304.29,133.53 304.64,133.24 305.00,132.90" fill="none" stroke="#78cc78" stroke-width="1.2"/><rect x="336.1" y="146.0" width="68.6" height="4.1" fill="#111"/><rect x="348.40" y="145.40" width="11.10" height="6.40" fill="#df8c98" stroke="#a6a6a6" stroke-width="0.8"/><rect x="370.50" y="145.40" width="17.60" height="6.40" fill="#8dd587" stroke="#a6a6a6" stroke-width="0.8"/><polygon points="359.60,146.50 362.19,139.30 363.99,145.60 367.09,145.60 368.89,139.30 370.40,146.50 370.40,151.70 365.00,156.20 359.60,151.70" fill="#fff" stroke="#b0b0b0" stroke-width="0.7" stroke-linejoin="round"/><rect x="363.9" y="146.00" width="2.30" height="5.20" fill="#efc35e" stroke="#c8c8c8" stroke-width="0.4"/><polygon points="342.30,144.30 343.17,146.40 345.44,146.58 343.71,148.06 344.24,150.27 342.30,149.09 340.36,150.27 340.89,148.06 339.16,146.58 341.43,146.40" fill="#ff1a1a"/><path d="M348.3 145.1 L348.3 136.9 L352.6 136.9" fill="none" stroke="#4a8fd6" stroke-width="1.1"/><polygon points="354.8,136.9 352.0,135.20000000000002 352.0,138.6" fill="#4a8fd6"/><path d="M343.1 140.8 Q344.14 133.30 350.30 132.98" fill="none" stroke="#222" stroke-width="0.7"/><polygon points="351.80,132.90 349.08,134.54 348.93,131.55" fill="#222"/><text x="336.3" y="160.0" font-size="11.4" font-weight="bold" font-style="normal" fill="#000" text-anchor="start" >C</text><polyline points="358.60,123.50 358.95,123.16 359.30,122.88 359.65,122.70 360.00,122.65 360.35,122.74 360.70,122.95 361.05,123.26 361.40,123.60 361.75,123.92 362.10,124.18 362.45,124.33 362.80,124.34 363.15,124.21 363.50,123.97 363.85,123.65 364.20,123.30 364.55,122.99 364.90,122.76 365.25,122.66 365.60,122.69 365.95,122.85 366.30,123.12 366.65,123.45 367.00,123.79 367.35,124.08 367.70,124.28 368.05,124.35 368.40,124.28 368.75,124.08 369.10,123.79 369.45,123.45 369.80,123.12 370.15,122.85 370.50,122.69 370.85,122.66 371.20,122.76 371.55,122.99 371.90,123.30 372.25,123.65 372.60,123.97" fill="none" stroke="#66c6e6" stroke-width="1.2"/><polyline points="372.60,123.97 372.95,124.21 373.31,124.34 373.66,124.33 374.01,124.18 374.36,123.91 374.72,123.58 375.07,123.24 375.42,122.94 375.77,122.73 376.13,122.65 376.48,122.71 376.83,122.90 377.18,123.19 377.54,123.54 377.89,123.87 378.24,124.15 378.59,124.31 378.95,124.34 379.30,124.24 379.65,124.01 380.01,123.69 380.36,123.34 380.71,123.02 381.06,122.78 381.42,122.66 381.77,122.68 382.12,122.83 382.47,123.10 382.83,123.43 383.18,123.77 383.53,124.07 383.88,124.27 384.24,124.35 384.59,124.28 384.94,124.09 385.29,123.80 385.65,123.45 386.00,123.12" fill="none" stroke="#78cc78" stroke-width="1.2"/><polyline points="358.60,128.20 358.96,127.85 359.32,127.57 359.68,127.39 360.05,127.36 360.41,127.47 360.77,127.71 361.13,128.03 361.49,128.39 361.85,128.71 362.22,128.94 362.58,129.05 362.94,129.00 363.30,128.82 363.66,128.53 364.02,128.18 364.38,127.83 364.75,127.55 365.11,127.38 365.47,127.36 365.83,127.48 366.19,127.73 366.55,128.06 366.92,128.41 367.28,128.73 367.64,128.95 368.00,129.05" fill="none" stroke="#66c6e6" stroke-width="1.2"/><polyline points="368.00,129.05 368.35,129.00 368.70,128.82 369.06,128.53 369.41,128.19 369.76,127.85 370.11,127.57 370.47,127.40 370.82,127.35 371.17,127.45 371.52,127.67 371.87,127.98 372.23,128.32 372.58,128.65 372.93,128.90 373.28,129.03 373.63,129.03 373.99,128.89 374.34,128.63 374.69,128.31 375.04,127.96 375.40,127.66 375.75,127.44 376.10,127.35" fill="none" stroke="#eab450" stroke-width="1.2"/><polyline points="376.10,127.35 376.45,127.40 376.81,127.59 377.16,127.87 377.51,128.21 377.87,128.55 378.22,128.83 378.58,129.01 378.93,129.05 379.28,128.94 379.64,128.72 379.99,128.41 380.34,128.06 380.70,127.74 381.05,127.49 381.40,127.36 381.76,127.37 382.11,127.52 382.46,127.79 382.82,128.12 383.17,128.46 383.52,128.77 383.88,128.97 384.23,129.05 384.59,128.99 384.94,128.79 385.29,128.50 385.65,128.15 386.00,127.82" fill="none" stroke="#78cc78" stroke-width="1.2"/><polyline points="358.60,132.80 358.95,132.46 359.31,132.18 359.66,132.00 360.01,131.95 360.36,132.05 360.72,132.27 361.07,132.57 361.42,132.92 361.77,133.25 362.13,133.50 362.48,133.63 362.83,133.63 363.18,133.49 363.54,133.24 363.89,132.91 364.24,132.56 364.59,132.26 364.95,132.04 365.30,131.95 365.65,132.00 366.01,132.19 366.36,132.47 366.71,132.81 367.06,133.15 367.42,133.43 367.77,133.60 368.12,133.65 368.47,133.55 368.83,133.33 369.18,133.02 369.53,132.67 369.88,132.35 370.24,132.10 370.59,131.96 370.94,131.97 371.29,132.12 371.65,132.37 372.00,132.70" fill="none" stroke="#66c6e6" stroke-width="1.2"/><polyline points="372.00,132.70 372.36,133.05 372.71,133.35 373.07,133.57 373.42,133.65 373.78,133.59 374.13,133.40 374.49,133.10 374.84,132.76 375.20,132.42 375.55,132.15 375.91,131.98 376.26,131.96 376.62,132.07 376.97,132.31 377.33,132.63 377.68,132.98 378.04,133.30 378.39,133.53 378.75,133.64 379.11,133.61 379.46,133.44 379.82,133.17 380.17,132.83 380.53,132.48 380.88,132.19 381.24,132.01 381.59,131.95 381.95,132.04 382.30,132.26 382.66,132.56 383.01,132.91 383.37,133.24 383.72,133.50 384.08,133.63 384.43,133.63 384.79,133.49 385.14,133.23 385.50,132.90" fill="none" stroke="#eab450" stroke-width="1.2"/><rect x="244.3" y="225.2" width="51.0" height="4.1" fill="#111"/><rect x="295.0" y="225.2" width="7.4" height="4.1" fill="#8d8d8d"/><rect x="302.4" y="225.2" width="7.5" height="4.1" fill="#d2d2d2"/><rect x="253.80" y="223.70" width="27.60" height="6.80" fill="#5eb7e3" stroke="#a6a6a6" stroke-width="0.8"/><polygon points="288.20,223.60 289.07,225.70 291.34,225.88 289.61,227.36 290.14,229.57 288.20,228.39 286.26,229.57 286.79,227.36 285.06,225.88 287.33,225.70" fill="#ff1a1a"/><path d="M254.9 223.4 L254.9 214.6 L259.2 214.6" fill="none" stroke="#4a8fd6" stroke-width="1.1"/><polygon points="261.4,214.6 258.59999999999997,212.9 258.59999999999997,216.29999999999998" fill="#4a8fd6"/><path d="M284.1 222.2 Q285.22 214.60 291.90 214.27" fill="none" stroke="#222" stroke-width="0.7"/><polygon points="293.40,214.20 290.68,215.83 290.53,212.84" fill="#222"/><line x1="294.6" y1="225.4" x2="294.6" y2="217.6" stroke="#ff1a1a" stroke-width="1.3"/><polygon points="294.6,215.6 293.1,218.2 296.1,218.2" fill="#ff1a1a"/><line x1="301.5" y1="225.4" x2="301.5" y2="217.6" stroke="#ff1a1a" stroke-width="1.3"/><polygon points="301.5,215.6 300.0,218.2 303.0,218.2" fill="#ff1a1a"/><line x1="308.6" y1="225.4" x2="308.6" y2="217.6" stroke="#ff1a1a" stroke-width="1.3"/><polygon points="308.6,215.6 307.1,218.2 310.1,218.2" fill="#ff1a1a"/><rect x="295.3" y="202.5" width="8.6" height="2.3" fill="#111"/><rect x="303.9" y="202.5" width="4.1" height="2.3" fill="#8f8f8f"/><rect x="308.0" y="202.5" width="4.1" height="2.3" fill="#d0d0d0"/><rect x="295.3" y="206.9" width="8.6" height="2.3" fill="#111"/><rect x="303.9" y="206.9" width="4.1" height="2.3" fill="#8f8f8f"/><rect x="295.3" y="211.3" width="8.6" height="2.4" fill="#111"/><rect x="303.9" y="211.3" width="4.1" height="2.4" fill="#8f8f8f"/><text x="284.2" y="239.9" font-size="11.2" font-weight="bold" font-style="normal" fill="#000" text-anchor="start" >C</text><path d="M281.9 241.4 L281.9 245.8 L309.4 245.8 L309.4 241.4" fill="none" stroke="#111" stroke-width="1.0"/><text x="277.6" y="260.0" font-size="12.6" font-weight="bold" font-style="normal" fill="#000" text-anchor="start" textLength="37.8" lengthAdjust="spacingAndGlyphs" >3’UTR</text><rect x="335.0" y="225.2" width="12.0" height="3.8" fill="#111"/><rect x="374.0" y="225.2" width="14.0" height="3.8" fill="#111"/><rect x="387.9" y="225.2" width="7.1" height="3.8" fill="#8d8d8d"/><rect x="395.0" y="225.2" width="6.8" height="3.8" fill="#d2d2d2"/><rect x="346.80" y="223.70" width="27.40" height="6.50" fill="#df8c98" stroke="#a6a6a6" stroke-width="0.8"/><polygon points="381.20,223.30 382.07,225.40 384.34,225.58 382.61,227.06 383.14,229.27 381.20,228.09 379.26,229.27 379.79,227.06 378.06,225.58 380.33,225.40" fill="#ff1a1a"/><path d="M347.0 223.4 L347.0 215.0 L351.40000000000003 215.0" fill="none" stroke="#4a8fd6" stroke-width="1.1"/><polygon points="353.6,215.0 350.8,213.3 350.8,216.7" fill="#4a8fd6"/><path d="M377.1 220.4 Q378.17 212.61 384.50 212.28" fill="none" stroke="#222" stroke-width="0.7"/><polygon points="386.00,212.20 383.28,213.84 383.13,210.85" fill="#222"/><line x1="387.9" y1="225.0" x2="387.9" y2="217.0" stroke="#ff1a1a" stroke-width="1.3"/><polygon points="387.9,215.0 386.4,217.6 389.4,217.6" fill="#ff1a1a"/><line x1="394.8" y1="225.0" x2="394.8" y2="217.0" stroke="#ff1a1a" stroke-width="1.3"/><polygon points="394.8,215.0 393.3,217.6 396.3,217.6" fill="#ff1a1a"/><line x1="401.9" y1="225.0" x2="401.9" y2="217.0" stroke="#ff1a1a" stroke-width="1.3"/><polygon points="401.9,215.0 400.4,217.6 403.4,217.6" fill="#ff1a1a"/><rect x="388.3" y="203.6" width="8.2" height="2.2" fill="#111"/><rect x="396.5" y="203.6" width="4.1" height="2.2" fill="#8f8f8f"/><rect x="400.6" y="203.6" width="4.1" height="2.2" fill="#d0d0d0"/><rect x="388.3" y="207.3" width="8.2" height="2.0" fill="#111"/><rect x="388.3" y="211.0" width="8.2" height="2.1" fill="#111"/><text x="375.6" y="239.9" font-size="11.2" font-weight="bold" font-style="normal" fill="#000" text-anchor="start" >T</text><path d="M375.6 241.4 L375.6 245.8 L403.1 245.8 L403.1 241.4" fill="none" stroke="#111" stroke-width="1.0"/><text x="375.5" y="260.0" font-size="12.6" font-weight="bold" font-style="normal" fill="#000" text-anchor="start" textLength="36.9" lengthAdjust="spacingAndGlyphs" >3’UTR</text><text x="472.8" y="37.2" font-size="12.4" font-weight="bold" font-style="normal" fill="#2c55a3" text-anchor="start" textLength="49.6" lengthAdjust="spacingAndGlyphs" >WGCNA</text><rect x="469.40" y="40.50" width="6.88" height="10.48" fill="#faf0ec"/><rect x="476.28" y="40.50" width="6.88" height="10.48" fill="#f2c5bb"/><rect x="483.15" y="40.50" width="6.88" height="10.48" fill="#f2f7fc"/><rect x="490.03" y="40.50" width="6.88" height="10.48" fill="#d8ecfa"/><rect x="496.91" y="40.50" width="6.88" height="10.48" fill="#c8e4f8"/><rect x="503.78" y="40.50" width="6.88" height="10.48" fill="#f2c5bb"/><rect x="510.66" y="40.50" width="6.88" height="10.48" fill="#fbf0ec"/><rect x="517.54" y="40.50" width="6.88" height="10.48" fill="#e4f2fb"/><rect x="524.42" y="40.50" width="6.88" height="10.48" fill="#deeffa"/><rect x="531.29" y="40.50" width="6.88" height="10.48" fill="#e4f2fb"/><rect x="538.17" y="40.50" width="6.88" height="10.48" fill="#deeffa"/><rect x="545.05" y="40.50" width="6.88" height="10.48" fill="#b8dcf8"/><rect x="551.92" y="40.50" width="6.88" height="10.48" fill="#ffffff"/><rect x="469.40" y="50.98" width="6.88" height="10.48" fill="#f8e0d8"/><rect x="476.28" y="50.98" width="6.88" height="10.48" fill="#ffffff"/><rect x="483.15" y="50.98" width="6.88" height="10.48" fill="#ffffff"/><rect x="490.03" y="50.98" width="6.88" height="10.48" fill="#d8ecfa"/><rect x="496.91" y="50.98" width="6.88" height="10.48" fill="#e0f0fa"/><rect x="503.78" y="50.98" width="6.88" height="10.48" fill="#f5d0c6"/><rect x="510.66" y="50.98" width="6.88" height="10.48" fill="#f0bcae"/><rect x="517.54" y="50.98" width="6.88" height="10.48" fill="#f2f8fd"/><rect x="524.42" y="50.98" width="6.88" height="10.48" fill="#dcedfa"/><rect x="531.29" y="50.98" width="6.88" height="10.48" fill="#d4eafa"/><rect x="538.17" y="50.98" width="6.88" height="10.48" fill="#e8f4fb"/><rect x="545.05" y="50.98" width="6.88" height="10.48" fill="#e0f0fa"/><rect x="551.92" y="50.98" width="6.88" height="10.48" fill="#ffffff"/><rect x="469.40" y="61.45" width="6.88" height="10.48" fill="#ffffff"/><rect x="476.28" y="61.45" width="6.88" height="10.48" fill="#faece8"/><rect x="483.15" y="61.45" width="6.88" height="10.48" fill="#ffffff"/><rect x="490.03" y="61.45" width="6.88" height="10.48" fill="#ffffff"/><rect x="496.91" y="61.45" width="6.88" height="10.48" fill="#e8f4fb"/><rect x="503.78" y="61.45" width="6.88" height="10.48" fill="#ffffff"/><rect x="510.66" y="61.45" width="6.88" height="10.48" fill="#ffffff"/><rect x="517.54" y="61.45" width="6.88" height="10.48" fill="#f0f6fc"/><rect x="524.42" y="61.45" width="6.88" height="10.48" fill="#ffffff"/><rect x="531.29" y="61.45" width="6.88" height="10.48" fill="#f8e4dc"/><rect x="538.17" y="61.45" width="6.88" height="10.48" fill="#f0f6fc"/><rect x="545.05" y="61.45" width="6.88" height="10.48" fill="#dcedfa"/><rect x="551.92" y="61.45" width="6.88" height="10.48" fill="#f4f8fc"/><rect x="469.40" y="71.93" width="6.88" height="10.48" fill="#d4eafa"/><rect x="476.28" y="71.93" width="6.88" height="10.48" fill="#e4f2fb"/><rect x="483.15" y="71.93" width="6.88" height="10.48" fill="#f8e4dc"/><rect x="490.03" y="71.93" width="6.88" height="10.48" fill="#f4ccc2"/><rect x="496.91" y="71.93" width="6.88" height="10.48" fill="#ffffff"/><rect x="503.78" y="71.93" width="6.88" height="10.48" fill="#ffffff"/><rect x="510.66" y="71.93" width="6.88" height="10.48" fill="#ffffff"/><rect x="517.54" y="71.93" width="6.88" height="10.48" fill="#f0f6fc"/><rect x="524.42" y="71.93" width="6.88" height="10.48" fill="#f4f8fc"/><rect x="531.29" y="71.93" width="6.88" height="10.48" fill="#f2c4b8"/><rect x="538.17" y="71.93" width="6.88" height="10.48" fill="#ffffff"/><rect x="545.05" y="71.93" width="6.88" height="10.48" fill="#fbf2ee"/><rect x="551.92" y="71.93" width="6.88" height="10.48" fill="#dcedfa"/><line x1="469.40" y1="40.5" x2="469.40" y2="82.40" stroke="#2a2a2a" stroke-width="1.1"/><line x1="476.28" y1="40.5" x2="476.28" y2="82.40" stroke="#2a2a2a" stroke-width="1.1"/><line x1="483.15" y1="40.5" x2="483.15" y2="82.40" stroke="#2a2a2a" stroke-width="1.1"/><line x1="490.03" y1="40.5" x2="490.03" y2="82.40" stroke="#2a2a2a" stroke-width="1.1"/><line x1="496.91" y1="40.5" x2="496.91" y2="82.40" stroke="#2a2a2a" stroke-width="1.1"/><line x1="503.78" y1="40.5" x2="503.78" y2="82.40" stroke="#2a2a2a" stroke-width="1.1"/><line x1="510.66" y1="40.5" x2="510.66" y2="82.40" stroke="#2a2a2a" stroke-width="1.1"/><line x1="517.54" y1="40.5" x2="517.54" y2="82.40" stroke="#2a2a2a" stroke-width="1.1"/><line x1="524.42" y1="40.5" x2="524.42" y2="82.40" stroke="#2a2a2a" stroke-width="1.1"/><line x1="531.29" y1="40.5" x2="531.29" y2="82.40" stroke="#2a2a2a" stroke-width="1.1"/><line x1="538.17" y1="40.5" x2="538.17" y2="82.40" stroke="#2a2a2a" stroke-width="1.1"/><line x1="545.05" y1="40.5" x2="545.05" y2="82.40" stroke="#2a2a2a" stroke-width="1.1"/><line x1="551.92" y1="40.5" x2="551.92" y2="82.40" stroke="#2a2a2a" stroke-width="1.1"/><line x1="558.80" y1="40.5" x2="558.80" y2="82.40" stroke="#2a2a2a" stroke-width="1.1"/><line x1="468.9" y1="40.50" x2="559.30" y2="40.50" stroke="#2a2a2a" stroke-width="1.1"/><line x1="468.9" y1="50.98" x2="559.30" y2="50.98" stroke="#2a2a2a" stroke-width="1.1"/><line x1="468.9" y1="61.45" x2="559.30" y2="61.45" stroke="#2a2a2a" stroke-width="1.1"/><line x1="468.9" y1="71.93" x2="559.30" y2="71.93" stroke="#2a2a2a" stroke-width="1.1"/><line x1="468.9" y1="82.40" x2="559.30" y2="82.40" stroke="#2a2a2a" stroke-width="1.1"/><line x1="565.90" y1="61.00" x2="573.50" y2="61.00" stroke="#000" stroke-width="2.0"/><polygon points="578.60,61.00 573.00,64.30 573.00,57.70" fill="#000"/><line x1="624.0" y1="29.3" x2="646.7" y2="50.2" stroke="#ff22ee" stroke-width="3.4"/><line x1="646.7" y1="50.2" x2="634.2" y2="77.0" stroke="#ff22ee" stroke-width="4.4"/><line x1="624.0" y1="29.3" x2="598.8" y2="42.0" stroke="#ff22ee" stroke-width="2.0"/><line x1="602.9" y1="73.0" x2="634.2" y2="77.0" stroke="#ff22ee" stroke-width="2.0"/><line x1="624.0" y1="29.3" x2="634.2" y2="77.0" stroke="#ff22ee" stroke-width="1.8"/><line x1="646.7" y1="50.2" x2="602.9" y2="73.0" stroke="#ff22ee" stroke-width="1.5"/><line x1="598.8" y1="42.0" x2="646.7" y2="50.2" stroke="#f470f0" stroke-width="0.6"/><line x1="598.8" y1="42.0" x2="602.9" y2="73.0" stroke="#f470f0" stroke-width="0.6"/><line x1="598.8" y1="42.0" x2="634.2" y2="77.0" stroke="#f470f0" stroke-width="0.6"/><line x1="624.0" y1="29.3" x2="602.9" y2="73.0" stroke="#f470f0" stroke-width="0.6"/><ellipse cx="624.0" cy="29.3" rx="2.2" ry="3.0" fill="#4f7fb9" stroke="#33577f" stroke-width="0.5"/><ellipse cx="598.8" cy="42.0" rx="2.2" ry="3.0" fill="#4f7fb9" stroke="#33577f" stroke-width="0.5"/><ellipse cx="646.7" cy="50.2" rx="2.2" ry="3.0" fill="#4f7fb9" stroke="#33577f" stroke-width="0.5"/><ellipse cx="602.9" cy="73.0" rx="2.2" ry="3.0" fill="#4f7fb9" stroke="#33577f" stroke-width="0.5"/><ellipse cx="634.2" cy="77.0" rx="2.2" ry="3.0" fill="#4f7fb9" stroke="#33577f" stroke-width="0.5"/><text x="565.9" y="97.6" font-size="12.4" font-weight="bold" font-style="normal" fill="#3a5ca8" text-anchor="start" textLength="35.4" lengthAdjust="spacingAndGlyphs" >Coloc</text><rect x="569.0" y="100.3" width="96.8" height="65.4" fill="none" stroke="#222" stroke-width="1.1"/><text x="566.3" y="111.89999999999999" font-size="7.9" font-weight="bold" font-style="normal" fill="#000" text-anchor="end" >6</text><line x1="567.2" y1="109.1" x2="569" y2="109.1" stroke="#222" stroke-width="0.7"/><text x="566.3" y="123.3" font-size="7.9" font-weight="bold" font-style="normal" fill="#000" text-anchor="end" >5</text><line x1="567.2" y1="120.5" x2="569" y2="120.5" stroke="#222" stroke-width="0.7"/><text x="566.3" y="135.0" font-size="7.9" font-weight="bold" font-style="normal" fill="#000" text-anchor="end" >4</text><line x1="567.2" y1="132.2" x2="569" y2="132.2" stroke="#222" stroke-width="0.7"/><text x="566.3" y="146.5" font-size="7.9" font-weight="bold" font-style="normal" fill="#000" text-anchor="end" >3</text><line x1="567.2" y1="143.7" x2="569" y2="143.7" stroke="#222" stroke-width="0.7"/><text x="566.3" y="157.20000000000002" font-size="7.9" font-weight="bold" font-style="normal" fill="#000" text-anchor="end" >2</text><line x1="567.2" y1="154.4" x2="569" y2="154.4" stroke="#222" stroke-width="0.7"/><text x="0" y="0" font-size="8.5" font-weight="bold" text-anchor="middle" transform="translate(557.8 131.3) rotate(-90)">GWAS</text><text x="587.0" y="112.7" font-size="8.4" font-weight="bold" font-style="normal" fill="#3a5ca8" text-anchor="start" textLength="49.4" lengthAdjust="spacingAndGlyphs" >key molQTL</text><circle cx="618.9" cy="114.8" r="1.0" fill="#ff1a1a"/><rect x="595.75" y="130.95" width="1.9" height="1.9" rx="0.5" fill="#141c2a"/><rect x="598.65" y="128.95" width="1.9" height="1.9" rx="0.5" fill="#141c2a"/><rect x="600.15" y="129.65" width="1.9" height="1.9" rx="0.5" fill="#141c2a"/><rect x="601.65" y="129.95" width="1.9" height="1.9" rx="0.5" fill="#141c2a"/><rect x="604.55" y="127.75" width="1.9" height="1.9" rx="0.5" fill="#141c2a"/><rect x="605.65" y="129.25" width="1.9" height="1.9" rx="0.5" fill="#141c2a"/><rect x="609.05" y="129.65" width="1.9" height="1.9" rx="0.5" fill="#141c2a"/><rect x="627.05" y="130.95" width="1.9" height="1.9" rx="0.5" fill="#141c2a"/><rect x="628.15" y="129.95" width="1.9" height="1.9" rx="0.5" fill="#141c2a"/><rect x="629.65" y="129.25" width="1.9" height="1.9" rx="0.5" fill="#141c2a"/><rect x="631.15" y="128.15" width="1.9" height="1.9" rx="0.5" fill="#141c2a"/><rect x="637.05" y="130.85" width="1.9" height="1.9" rx="0.5" fill="#141c2a"/><rect x="642.05" y="130.85" width="1.9" height="1.9" rx="0.5" fill="#141c2a"/><rect x="571.65" y="146.95" width="1.9" height="1.9" rx="0.5" fill="#141c2a"/><rect x="578.05" y="147.65" width="1.9" height="1.9" rx="0.5" fill="#141c2a"/><rect x="580.55" y="148.35" width="1.9" height="1.9" rx="0.5" fill="#141c2a"/><rect x="582.45" y="147.35" width="1.9" height="1.9" rx="0.5" fill="#141c2a"/><rect x="583.95" y="149.15" width="1.9" height="1.9" rx="0.5" fill="#141c2a"/><rect x="585.65" y="147.35" width="1.9" height="1.9" rx="0.5" fill="#141c2a"/><rect x="587.15" y="148.85" width="1.9" height="1.9" rx="0.5" fill="#141c2a"/><rect x="581.55" y="150.35" width="1.9" height="1.9" rx="0.5" fill="#141c2a"/><rect x="583.45" y="150.85" width="1.9" height="1.9" rx="0.5" fill="#141c2a"/><rect x="584.95" y="151.35" width="1.9" height="1.9" rx="0.5" fill="#141c2a"/><rect x="586.85" y="150.35" width="1.9" height="1.9" rx="0.5" fill="#141c2a"/><rect x="590.15" y="152.85" width="1.9" height="1.9" rx="0.5" fill="#141c2a"/><rect x="594.25" y="151.05" width="1.9" height="1.9" rx="0.5" fill="#141c2a"/><rect x="596.75" y="151.35" width="1.9" height="1.9" rx="0.5" fill="#141c2a"/><rect x="598.25" y="152.85" width="1.9" height="1.9" rx="0.5" fill="#141c2a"/><rect x="600.15" y="150.85" width="1.9" height="1.9" rx="0.5" fill="#141c2a"/><rect x="601.65" y="149.15" width="1.9" height="1.9" rx="0.5" fill="#141c2a"/><rect x="602.65" y="152.05" width="1.9" height="1.9" rx="0.5" fill="#141c2a"/><rect x="603.65" y="153.55" width="1.9" height="1.9" rx="0.5" fill="#141c2a"/><rect x="599.25" y="154.25" width="1.9" height="1.9" rx="0.5" fill="#141c2a"/><rect x="601.15" y="154.75" width="1.9" height="1.9" rx="0.5" fill="#141c2a"/><rect x="608.55" y="150.35" width="1.9" height="1.9" rx="0.5" fill="#141c2a"/><rect x="613.75" y="149.85" width="1.9" height="1.9" rx="0.5" fill="#141c2a"/><rect x="616.35" y="147.25" width="1.9" height="1.9" rx="0.5" fill="#141c2a"/><rect x="621.05" y="152.35" width="1.9" height="1.9" rx="0.5" fill="#141c2a"/><rect x="628.15" y="152.85" width="1.9" height="1.9" rx="0.5" fill="#141c2a"/><rect x="633.15" y="149.15" width="1.9" height="1.9" rx="0.5" fill="#141c2a"/><rect x="641.05" y="144.95" width="1.9" height="1.9" rx="0.5" fill="#141c2a"/><rect x="645.05" y="149.45" width="1.9" height="1.9" rx="0.5" fill="#141c2a"/><rect x="641.45" y="152.85" width="1.9" height="1.9" rx="0.5" fill="#141c2a"/><rect x="645.85" y="153.55" width="1.9" height="1.9" rx="0.5" fill="#141c2a"/><rect x="650.35" y="152.05" width="1.9" height="1.9" rx="0.5" fill="#141c2a"/><rect x="652.05" y="152.85" width="1.9" height="1.9" rx="0.5" fill="#141c2a"/><rect x="656.15" y="153.25" width="1.9" height="1.9" rx="0.5" fill="#141c2a"/><rect x="640.25" y="155.35" width="1.9" height="1.9" rx="0.5" fill="#141c2a"/><rect x="641.75" y="155.05" width="1.9" height="1.9" rx="0.5" fill="#141c2a"/><rect x="643.25" y="155.75" width="1.9" height="1.9" rx="0.5" fill="#141c2a"/><rect x="645.85" y="156.45" width="1.9" height="1.9" rx="0.5" fill="#141c2a"/><rect x="649.15" y="156.75" width="1.9" height="1.9" rx="0.5" fill="#141c2a"/><rect x="570.95" y="157.65" width="1.9" height="1.9" rx="0.5" fill="#141c2a"/><rect x="573.15" y="160.15" width="1.9" height="1.9" rx="0.5" fill="#141c2a"/><rect x="576.15" y="158.25" width="1.9" height="1.9" rx="0.5" fill="#141c2a"/><rect x="582.05" y="158.75" width="1.9" height="1.9" rx="0.5" fill="#141c2a"/><rect x="588.95" y="158.25" width="1.9" height="1.9" rx="0.5" fill="#141c2a"/><rect x="596.05" y="157.65" width="1.9" height="1.9" rx="0.5" fill="#141c2a"/><rect x="599.75" y="159.15" width="1.9" height="1.9" rx="0.5" fill="#141c2a"/><rect x="605.15" y="156.75" width="1.9" height="1.9" rx="0.5" fill="#141c2a"/><rect x="605.15" y="160.15" width="1.9" height="1.9" rx="0.5" fill="#141c2a"/><rect x="613.45" y="156.45" width="1.9" height="1.9" rx="0.5" fill="#141c2a"/><rect x="613.75" y="159.45" width="1.9" height="1.9" rx="0.5" fill="#141c2a"/><rect x="617.45" y="157.65" width="1.9" height="1.9" rx="0.5" fill="#141c2a"/><rect x="618.45" y="159.45" width="1.9" height="1.9" rx="0.5" fill="#141c2a"/><rect x="623.75" y="159.75" width="1.9" height="1.9" rx="0.5" fill="#141c2a"/><rect x="626.75" y="160.15" width="1.9" height="1.9" rx="0.5" fill="#141c2a"/><rect x="629.95" y="159.75" width="1.9" height="1.9" rx="0.5" fill="#141c2a"/><rect x="634.35" y="159.15" width="1.9" height="1.9" rx="0.5" fill="#141c2a"/><rect x="638.75" y="159.45" width="1.9" height="1.9" rx="0.5" fill="#141c2a"/><rect x="644.35" y="160.15" width="1.9" height="1.9" rx="0.5" fill="#141c2a"/><rect x="645.45" y="158.25" width="1.9" height="1.9" rx="0.5" fill="#141c2a"/><rect x="649.45" y="157.25" width="1.9" height="1.9" rx="0.5" fill="#141c2a"/><ellipse cx="494.1" cy="142.2" rx="33.4" ry="18.6" transform="rotate(-10 494.1 142.2)" fill="#797162"/><text x="472.0" y="142.1" font-size="15.2" font-weight="bold" font-style="italic" fill="#c49a26" text-anchor="start" textLength="47.0" lengthAdjust="spacingAndGlyphs" >KEGG</text><text x="478.6" y="156.5" font-size="15.2" font-weight="bold" font-style="italic" fill="#9c3c26" text-anchor="start" textLength="24.6" lengthAdjust="spacingAndGlyphs" >GO</text><line x1="477.80" y1="195.40" x2="478.30" y2="195.43" stroke="#6d33a6" stroke-width="2.1" stroke-linecap="round"/><line x1="478.30" y1="195.43" x2="478.80" y2="195.51" stroke="#6d33a6" stroke-width="2.1" stroke-linecap="round"/><line x1="478.80" y1="195.51" x2="479.30" y2="195.64" stroke="#6e33a5" stroke-width="2.1" stroke-linecap="round"/><line x1="479.30" y1="195.64" x2="479.80" y2="195.82" stroke="#6f33a4" stroke-width="2.1" stroke-linecap="round"/><line x1="479.80" y1="195.82" x2="480.30" y2="196.05" stroke="#7032a3" stroke-width="2.1" stroke-linecap="round"/><line x1="480.30" y1="196.05" x2="480.80" y2="196.33" stroke="#7232a1" stroke-width="2.1" stroke-linecap="round"/><line x1="480.80" y1="196.33" x2="481.30" y2="196.65" stroke="#74329e" stroke-width="2.1" stroke-linecap="round"/><line x1="481.30" y1="196.65" x2="481.80" y2="197.02" stroke="#76319c" stroke-width="2.1" stroke-linecap="round"/><line x1="481.80" y1="197.02" x2="482.30" y2="197.43" stroke="#783199" stroke-width="2.1" stroke-linecap="round"/><line x1="482.30" y1="197.43" x2="482.80" y2="197.88" stroke="#7b3096" stroke-width="2.1" stroke-linecap="round"/><line x1="482.80" y1="197.88" x2="483.30" y2="198.36" stroke="#7d2f92" stroke-width="2.1" stroke-linecap="round"/><line x1="483.30" y1="198.36" x2="483.80" y2="198.87" stroke="#802f8f" stroke-width="2.1" stroke-linecap="round"/><line x1="483.80" y1="198.87" x2="484.30" y2="199.41" stroke="#842e8b" stroke-width="2.1" stroke-linecap="round"/><line x1="484.30" y1="199.41" x2="484.80" y2="199.98" stroke="#872d86" stroke-width="2.1" stroke-linecap="round"/><line x1="484.80" y1="199.98" x2="485.30" y2="200.56" stroke="#8a2c82" stroke-width="2.1" stroke-linecap="round"/><line x1="485.30" y1="200.56" x2="485.80" y2="201.16" stroke="#8e2c7e" stroke-width="2.1" stroke-linecap="round"/><line x1="485.80" y1="201.16" x2="486.30" y2="201.77" stroke="#922b79" stroke-width="2.1" stroke-linecap="round"/><line x1="486.30" y1="201.77" x2="486.80" y2="202.39" stroke="#952a75" stroke-width="2.1" stroke-linecap="round"/><line x1="486.80" y1="202.39" x2="487.30" y2="203.01" stroke="#992970" stroke-width="2.1" stroke-linecap="round"/><line x1="487.30" y1="203.01" x2="487.80" y2="203.63" stroke="#9d286b" stroke-width="2.1" stroke-linecap="round"/><line x1="487.80" y1="203.63" x2="488.30" y2="204.24" stroke="#a12867" stroke-width="2.1" stroke-linecap="round"/><line x1="488.30" y1="204.24" x2="488.80" y2="204.84" stroke="#a42762" stroke-width="2.1" stroke-linecap="round"/><line x1="488.80" y1="204.84" x2="489.30" y2="205.42" stroke="#a8265e" stroke-width="2.1" stroke-linecap="round"/><line x1="489.30" y1="205.42" x2="489.80" y2="205.99" stroke="#ab255a" stroke-width="2.1" stroke-linecap="round"/><line x1="489.80" y1="205.99" x2="490.30" y2="206.53" stroke="#af2455" stroke-width="2.1" stroke-linecap="round"/><line x1="490.30" y1="206.53" x2="490.80" y2="207.04" stroke="#b22452" stroke-width="2.1" stroke-linecap="round"/><line x1="490.80" y1="207.04" x2="491.30" y2="207.52" stroke="#b5234e" stroke-width="2.1" stroke-linecap="round"/><line x1="491.30" y1="207.52" x2="491.80" y2="207.97" stroke="#b8234a" stroke-width="2.1" stroke-linecap="round"/><line x1="491.80" y1="207.97" x2="492.30" y2="208.38" stroke="#ba2247" stroke-width="2.1" stroke-linecap="round"/><line x1="492.30" y1="208.38" x2="492.80" y2="208.75" stroke="#bd2144" stroke-width="2.1" stroke-linecap="round"/><line x1="492.80" y1="208.75" x2="493.30" y2="209.07" stroke="#bf2142" stroke-width="2.1" stroke-linecap="round"/><line x1="493.30" y1="209.07" x2="493.80" y2="209.35" stroke="#c1213f" stroke-width="2.1" stroke-linecap="round"/><line x1="493.80" y1="209.35" x2="494.30" y2="209.58" stroke="#c2203d" stroke-width="2.1" stroke-linecap="round"/><line x1="494.30" y1="209.58" x2="494.80" y2="209.76" stroke="#c4203c" stroke-width="2.1" stroke-linecap="round"/><line x1="494.80" y1="209.76" x2="495.30" y2="209.89" stroke="#c4203b" stroke-width="2.1" stroke-linecap="round"/><line x1="495.30" y1="209.89" x2="495.80" y2="209.97" stroke="#c5203a" stroke-width="2.1" stroke-linecap="round"/><line x1="495.80" y1="209.97" x2="496.30" y2="210.00" stroke="#c5203a" stroke-width="2.1" stroke-linecap="round"/><line x1="496.30" y1="210.00" x2="496.80" y2="209.97" stroke="#c5203a" stroke-width="2.1" stroke-linecap="round"/><line x1="496.80" y1="209.97" x2="497.30" y2="209.89" stroke="#c5203a" stroke-width="2.1" stroke-linecap="round"/><line x1="497.30" y1="209.89" x2="497.80" y2="209.76" stroke="#c4203b" stroke-width="2.1" stroke-linecap="round"/><line x1="497.80" y1="209.76" x2="498.30" y2="209.58" stroke="#c4203c" stroke-width="2.1" stroke-linecap="round"/><line x1="498.30" y1="209.58" x2="498.80" y2="209.35" stroke="#c2203d" stroke-width="2.1" stroke-linecap="round"/><line x1="498.80" y1="209.35" x2="499.30" y2="209.07" stroke="#c1213f" stroke-width="2.1" stroke-linecap="round"/><line x1="499.30" y1="209.07" x2="499.80" y2="208.75" stroke="#bf2142" stroke-width="2.1" stroke-linecap="round"/><line x1="499.80" y1="208.75" x2="500.30" y2="208.38" stroke="#bd2144" stroke-width="2.1" stroke-linecap="round"/><line x1="500.30" y1="208.38" x2="500.80" y2="207.97" stroke="#ba2247" stroke-width="2.1" stroke-linecap="round"/><line x1="500.80" y1="207.97" x2="501.30" y2="207.52" stroke="#b8234a" stroke-width="2.1" stroke-linecap="round"/><line x1="501.30" y1="207.52" x2="501.80" y2="207.04" stroke="#b5234e" stroke-width="2.1" stroke-linecap="round"/><line x1="501.80" y1="207.04" x2="502.30" y2="206.53" stroke="#b22452" stroke-width="2.1" stroke-linecap="round"/><line x1="502.30" y1="206.53" x2="502.80" y2="205.99" stroke="#af2455" stroke-width="2.1" stroke-linecap="round"/><line x1="502.80" y1="205.99" x2="503.30" y2="205.42" stroke="#ab255a" stroke-width="2.1" stroke-linecap="round"/><line x1="503.30" y1="205.42" x2="503.80" y2="204.84" stroke="#a8265e" stroke-width="2.1" stroke-linecap="round"/><line x1="503.80" y1="204.84" x2="504.30" y2="204.24" stroke="#a42762" stroke-width="2.1" stroke-linecap="round"/><line x1="504.30" y1="204.24" x2="504.80" y2="203.63" stroke="#a12867" stroke-width="2.1" stroke-linecap="round"/><line x1="504.80" y1="203.63" x2="505.30" y2="203.01" stroke="#9d286b" stroke-width="2.1" stroke-linecap="round"/><line x1="505.30" y1="203.01" x2="505.80" y2="202.39" stroke="#992970" stroke-width="2.1" stroke-linecap="round"/><line x1="505.80" y1="202.39" x2="506.30" y2="201.77" stroke="#952a75" stroke-width="2.1" stroke-linecap="round"/><line x1="506.30" y1="201.77" x2="506.80" y2="201.16" stroke="#922b79" stroke-width="2.1" stroke-linecap="round"/><line x1="506.80" y1="201.16" x2="507.30" y2="200.56" stroke="#8e2c7e" stroke-width="2.1" stroke-linecap="round"/><line x1="507.30" y1="200.56" x2="507.80" y2="199.98" stroke="#8a2c82" stroke-width="2.1" stroke-linecap="round"/><line x1="507.80" y1="199.98" x2="508.30" y2="199.41" stroke="#872d86" stroke-width="2.1" stroke-linecap="round"/><line x1="508.30" y1="199.41" x2="508.80" y2="198.87" stroke="#842e8b" stroke-width="2.1" stroke-linecap="round"/><line x1="508.80" y1="198.87" x2="509.30" y2="198.36" stroke="#802f8f" stroke-width="2.1" stroke-linecap="round"/><line x1="509.30" y1="198.36" x2="509.80" y2="197.88" stroke="#7d2f92" stroke-width="2.1" stroke-linecap="round"/><line x1="509.80" y1="197.88" x2="510.30" y2="197.43" stroke="#7b3096" stroke-width="2.1" stroke-linecap="round"/><line x1="510.30" y1="197.43" x2="510.80" y2="197.02" stroke="#783199" stroke-width="2.1" stroke-linecap="round"/><line x1="510.80" y1="197.02" x2="511.30" y2="196.65" stroke="#76319c" stroke-width="2.1" stroke-linecap="round"/><line x1="511.30" y1="196.65" x2="511.80" y2="196.33" stroke="#74329e" stroke-width="2.1" stroke-linecap="round"/><line x1="511.80" y1="196.33" x2="512.30" y2="196.05" stroke="#7232a1" stroke-width="2.1" stroke-linecap="round"/><line x1="512.30" y1="196.05" x2="512.80" y2="195.82" stroke="#7032a3" stroke-width="2.1" stroke-linecap="round"/><line x1="512.80" y1="195.82" x2="513.30" y2="195.64" stroke="#6f33a4" stroke-width="2.1" stroke-linecap="round"/><line x1="513.30" y1="195.64" x2="513.80" y2="195.51" stroke="#6e33a5" stroke-width="2.1" stroke-linecap="round"/><line x1="513.80" y1="195.51" x2="514.30" y2="195.43" stroke="#6d33a6" stroke-width="2.1" stroke-linecap="round"/><line x1="514.30" y1="195.43" x2="514.80" y2="195.40" stroke="#6d33a6" stroke-width="2.1" stroke-linecap="round"/><line x1="477.80" y1="210.00" x2="478.30" y2="209.97" stroke="#c5203a" stroke-width="2.1" stroke-linecap="round"/><line x1="478.30" y1="209.97" x2="478.80" y2="209.89" stroke="#c5203a" stroke-width="2.1" stroke-linecap="round"/><line x1="478.80" y1="209.89" x2="479.30" y2="209.76" stroke="#c4203b" stroke-width="2.1" stroke-linecap="round"/><line x1="479.30" y1="209.76" x2="479.80" y2="209.58" stroke="#c4203c" stroke-width="2.1" stroke-linecap="round"/><line x1="479.80" y1="209.58" x2="480.30" y2="209.35" stroke="#c2203d" stroke-width="2.1" stroke-linecap="round"/><line x1="480.30" y1="209.35" x2="480.80" y2="209.07" stroke="#c1213f" stroke-width="2.1" stroke-linecap="round"/><line x1="480.80" y1="209.07" x2="481.30" y2="208.75" stroke="#bf2142" stroke-width="2.1" stroke-linecap="round"/><line x1="481.30" y1="208.75" x2="481.80" y2="208.38" stroke="#bd2144" stroke-width="2.1" stroke-linecap="round"/><line x1="481.80" y1="208.38" x2="482.30" y2="207.97" stroke="#ba2247" stroke-width="2.1" stroke-linecap="round"/><line x1="482.30" y1="207.97" x2="482.80" y2="207.52" stroke="#b8234a" stroke-width="2.1" stroke-linecap="round"/><line x1="482.80" y1="207.52" x2="483.30" y2="207.04" stroke="#b5234e" stroke-width="2.1" stroke-linecap="round"/><line x1="483.30" y1="207.04" x2="483.80" y2="206.53" stroke="#b22452" stroke-width="2.1" stroke-linecap="round"/><line x1="483.80" y1="206.53" x2="484.30" y2="205.99" stroke="#af2455" stroke-width="2.1" stroke-linecap="round"/><line x1="484.30" y1="205.99" x2="484.80" y2="205.42" stroke="#ab255a" stroke-width="2.1" stroke-linecap="round"/><line x1="484.80" y1="205.42" x2="485.30" y2="204.84" stroke="#a8265e" stroke-width="2.1" stroke-linecap="round"/><line x1="485.30" y1="204.84" x2="485.80" y2="204.24" stroke="#a42762" stroke-width="2.1" stroke-linecap="round"/><line x1="485.80" y1="204.24" x2="486.30" y2="203.63" stroke="#a12867" stroke-width="2.1" stroke-linecap="round"/><line x1="486.30" y1="203.63" x2="486.80" y2="203.01" stroke="#9d286b" stroke-width="2.1" stroke-linecap="round"/><line x1="486.80" y1="203.01" x2="487.30" y2="202.39" stroke="#992970" stroke-width="2.1" stroke-linecap="round"/><line x1="487.30" y1="202.39" x2="487.80" y2="201.77" stroke="#952a75" stroke-width="2.1" stroke-linecap="round"/><line x1="487.80" y1="201.77" x2="488.30" y2="201.16" stroke="#922b79" stroke-width="2.1" stroke-linecap="round"/><line x1="488.30" y1="201.16" x2="488.80" y2="200.56" stroke="#8e2c7e" stroke-width="2.1" stroke-linecap="round"/><line x1="488.80" y1="200.56" x2="489.30" y2="199.98" stroke="#8a2c82" stroke-width="2.1" stroke-linecap="round"/><line x1="489.30" y1="199.98" x2="489.80" y2="199.41" stroke="#872d86" stroke-width="2.1" stroke-linecap="round"/><line x1="489.80" y1="199.41" x2="490.30" y2="198.87" stroke="#842e8b" stroke-width="2.1" stroke-linecap="round"/><line x1="490.30" y1="198.87" x2="490.80" y2="198.36" stroke="#802f8f" stroke-width="2.1" stroke-linecap="round"/><line x1="490.80" y1="198.36" x2="491.30" y2="197.88" stroke="#7d2f92" stroke-width="2.1" stroke-linecap="round"/><line x1="491.30" y1="197.88" x2="491.80" y2="197.43" stroke="#7b3096" stroke-width="2.1" stroke-linecap="round"/><line x1="491.80" y1="197.43" x2="492.30" y2="197.02" stroke="#783199" stroke-width="2.1" stroke-linecap="round"/><line x1="492.30" y1="197.02" x2="492.80" y2="196.65" stroke="#76319c" stroke-width="2.1" stroke-linecap="round"/><line x1="492.80" y1="196.65" x2="493.30" y2="196.33" stroke="#74329e" stroke-width="2.1" stroke-linecap="round"/><line x1="493.30" y1="196.33" x2="493.80" y2="196.05" stroke="#7232a1" stroke-width="2.1" stroke-linecap="round"/><line x1="493.80" y1="196.05" x2="494.30" y2="195.82" stroke="#7032a3" stroke-width="2.1" stroke-linecap="round"/><line x1="494.30" y1="195.82" x2="494.80" y2="195.64" stroke="#6f33a4" stroke-width="2.1" stroke-linecap="round"/><line x1="494.80" y1="195.64" x2="495.30" y2="195.51" stroke="#6e33a5" stroke-width="2.1" stroke-linecap="round"/><line x1="495.30" y1="195.51" x2="495.80" y2="195.43" stroke="#6d33a6" stroke-width="2.1" stroke-linecap="round"/><line x1="495.80" y1="195.43" x2="496.30" y2="195.40" stroke="#6d33a6" stroke-width="2.1" stroke-linecap="round"/><line x1="496.30" y1="195.40" x2="496.80" y2="195.43" stroke="#6d33a6" stroke-width="2.1" stroke-linecap="round"/><line x1="496.80" y1="195.43" x2="497.30" y2="195.51" stroke="#6d33a6" stroke-width="2.1" stroke-linecap="round"/><line x1="497.30" y1="195.51" x2="497.80" y2="195.64" stroke="#6e33a5" stroke-width="2.1" stroke-linecap="round"/><line x1="497.80" y1="195.64" x2="498.30" y2="195.82" stroke="#6f33a4" stroke-width="2.1" stroke-linecap="round"/><line x1="498.30" y1="195.82" x2="498.80" y2="196.05" stroke="#7032a3" stroke-width="2.1" stroke-linecap="round"/><line x1="498.80" y1="196.05" x2="499.30" y2="196.33" stroke="#7232a1" stroke-width="2.1" stroke-linecap="round"/><line x1="499.30" y1="196.33" x2="499.80" y2="196.65" stroke="#74329e" stroke-width="2.1" stroke-linecap="round"/><line x1="499.80" y1="196.65" x2="500.30" y2="197.02" stroke="#76319c" stroke-width="2.1" stroke-linecap="round"/><line x1="500.30" y1="197.02" x2="500.80" y2="197.43" stroke="#783199" stroke-width="2.1" stroke-linecap="round"/><line x1="500.80" y1="197.43" x2="501.30" y2="197.88" stroke="#7b3096" stroke-width="2.1" stroke-linecap="round"/><line x1="501.30" y1="197.88" x2="501.80" y2="198.36" stroke="#7d2f92" stroke-width="2.1" stroke-linecap="round"/><line x1="501.80" y1="198.36" x2="502.30" y2="198.87" stroke="#802f8f" stroke-width="2.1" stroke-linecap="round"/><line x1="502.30" y1="198.87" x2="502.80" y2="199.41" stroke="#842e8b" stroke-width="2.1" stroke-linecap="round"/><line x1="502.80" y1="199.41" x2="503.30" y2="199.98" stroke="#872d86" stroke-width="2.1" stroke-linecap="round"/><line x1="503.30" y1="199.98" x2="503.80" y2="200.56" stroke="#8a2c82" stroke-width="2.1" stroke-linecap="round"/><line x1="503.80" y1="200.56" x2="504.30" y2="201.16" stroke="#8e2c7e" stroke-width="2.1" stroke-linecap="round"/><line x1="504.30" y1="201.16" x2="504.80" y2="201.77" stroke="#922b79" stroke-width="2.1" stroke-linecap="round"/><line x1="504.80" y1="201.77" x2="505.30" y2="202.39" stroke="#952a75" stroke-width="2.1" stroke-linecap="round"/><line x1="505.30" y1="202.39" x2="505.80" y2="203.01" stroke="#992970" stroke-width="2.1" stroke-linecap="round"/><line x1="505.80" y1="203.01" x2="506.30" y2="203.63" stroke="#9d286b" stroke-width="2.1" stroke-linecap="round"/><line x1="506.30" y1="203.63" x2="506.80" y2="204.24" stroke="#a12867" stroke-width="2.1" stroke-linecap="round"/><line x1="506.80" y1="204.24" x2="507.30" y2="204.84" stroke="#a42762" stroke-width="2.1" stroke-linecap="round"/><line x1="507.30" y1="204.84" x2="507.80" y2="205.42" stroke="#a8265e" stroke-width="2.1" stroke-linecap="round"/><line x1="507.80" y1="205.42" x2="508.30" y2="205.99" stroke="#ab255a" stroke-width="2.1" stroke-linecap="round"/><line x1="508.30" y1="205.99" x2="508.80" y2="206.53" stroke="#af2455" stroke-width="2.1" stroke-linecap="round"/><line x1="508.80" y1="206.53" x2="509.30" y2="207.04" stroke="#b22452" stroke-width="2.1" stroke-linecap="round"/><line x1="509.30" y1="207.04" x2="509.80" y2="207.52" stroke="#b5234e" stroke-width="2.1" stroke-linecap="round"/><line x1="509.80" y1="207.52" x2="510.30" y2="207.97" stroke="#b8234a" stroke-width="2.1" stroke-linecap="round"/><line x1="510.30" y1="207.97" x2="510.80" y2="208.38" stroke="#ba2247" stroke-width="2.1" stroke-linecap="round"/><line x1="510.80" y1="208.38" x2="511.30" y2="208.75" stroke="#bd2144" stroke-width="2.1" stroke-linecap="round"/><line x1="511.30" y1="208.75" x2="511.80" y2="209.07" stroke="#bf2142" stroke-width="2.1" stroke-linecap="round"/><line x1="511.80" y1="209.07" x2="512.30" y2="209.35" stroke="#c1213f" stroke-width="2.1" stroke-linecap="round"/><line x1="512.30" y1="209.35" x2="512.80" y2="209.58" stroke="#c2203d" stroke-width="2.1" stroke-linecap="round"/><line x1="512.80" y1="209.58" x2="513.30" y2="209.76" stroke="#c4203c" stroke-width="2.1" stroke-linecap="round"/><line x1="513.30" y1="209.76" x2="513.80" y2="209.89" stroke="#c4203b" stroke-width="2.1" stroke-linecap="round"/><line x1="513.80" y1="209.89" x2="514.30" y2="209.97" stroke="#c5203a" stroke-width="2.1" stroke-linecap="round"/><line x1="514.30" y1="209.97" x2="514.80" y2="210.00" stroke="#c5203a" stroke-width="2.1" stroke-linecap="round"/><line x1="480.4" y1="197.30" x2="480.4" y2="202.70" stroke="#8a2e88" stroke-width="1.2"/><line x1="480.4" y1="202.70" x2="480.4" y2="208.10" stroke="#b02656" stroke-width="1.2"/><line x1="482.9" y1="199.17" x2="482.9" y2="202.70" stroke="#8a2e88" stroke-width="1.2"/><line x1="482.9" y1="202.70" x2="482.9" y2="206.23" stroke="#b02656" stroke-width="1.2"/><line x1="492.1" y1="198.38" x2="492.1" y2="202.70" stroke="#8a2e88" stroke-width="1.2"/><line x1="492.1" y1="202.70" x2="492.1" y2="207.02" stroke="#b02656" stroke-width="1.2"/><line x1="494.6" y1="196.90" x2="494.6" y2="202.70" stroke="#8a2e88" stroke-width="1.2"/><line x1="494.6" y1="202.70" x2="494.6" y2="208.50" stroke="#b02656" stroke-width="1.2"/><line x1="497.1" y1="196.67" x2="497.1" y2="202.70" stroke="#8a2e88" stroke-width="1.2"/><line x1="497.1" y1="202.70" x2="497.1" y2="208.73" stroke="#b02656" stroke-width="1.2"/><line x1="499.6" y1="197.72" x2="499.6" y2="202.70" stroke="#8a2e88" stroke-width="1.2"/><line x1="499.6" y1="202.70" x2="499.6" y2="207.68" stroke="#b02656" stroke-width="1.2"/><line x1="508.9" y1="199.97" x2="508.9" y2="202.70" stroke="#8a2e88" stroke-width="1.2"/><line x1="508.9" y1="202.70" x2="508.9" y2="205.43" stroke="#b02656" stroke-width="1.2"/><line x1="511.4" y1="197.78" x2="511.4" y2="202.70" stroke="#8a2e88" stroke-width="1.2"/><line x1="511.4" y1="202.70" x2="511.4" y2="207.62" stroke="#b02656" stroke-width="1.2"/><line x1="520.50" y1="190.20" x2="535.47" y2="185.45" stroke="#000" stroke-width="2.1"/><polygon points="541.00,183.70 536.14,189.23 533.85,181.98" fill="#000"/><line x1="523.20" y1="199.20" x2="539.90" y2="198.98" stroke="#000" stroke-width="2.1"/><polygon points="546.00,198.90 539.45,202.99 539.35,194.99" fill="#000"/><line x1="523.20" y1="208.00" x2="537.48" y2="212.59" stroke="#000" stroke-width="2.1"/><polygon points="543.10,214.40 535.81,216.15 538.20,208.73" fill="#000"/><line x1="589.00" y1="183.90" x2="603.00" y2="188.54" stroke="#000" stroke-width="2.1"/><polygon points="608.60,190.40 601.30,192.09 603.75,184.68" fill="#000"/><line x1="590.00" y1="198.60" x2="607.63" y2="200.24" stroke="#000" stroke-width="2.1"/><polygon points="613.70,200.80 606.76,204.17 607.50,196.21" fill="#000"/><line x1="591.60" y1="218.00" x2="606.04" y2="212.87" stroke="#000" stroke-width="2.1"/><polygon points="611.60,210.90 606.87,216.72 604.26,209.37" fill="#000"/><text x="551.6" y="190.8" font-size="11.0" font-weight="bold" font-style="normal" fill="#000" text-anchor="start" textLength="35.6" lengthAdjust="spacingAndGlyphs" >gene 1</text><text x="551.6" y="205.8" font-size="11.0" font-weight="bold" font-style="normal" fill="#000" text-anchor="start" textLength="36.5" lengthAdjust="spacingAndGlyphs" >gene 2</text><line x1="563.6" y1="214.6" x2="579.0" y2="214.6" stroke="#111" stroke-width="1.6" stroke-dasharray="1.4 1.2"/><text x="551.6" y="228.2" font-size="11.0" font-weight="bold" font-style="normal" fill="#000" text-anchor="start" textLength="36.5" lengthAdjust="spacingAndGlyphs" >gene k</text><text x="621.6" y="206.8" font-size="11.2" font-weight="bold" font-style="normal" fill="#000" text-anchor="start" textLength="58.4" lengthAdjust="spacingAndGlyphs" >Phenotype</text><rect x="24.25" y="374.9" width="7.1" height="127.80" fill="#c7afdf"/><rect x="24.25" y="483.1" width="7.1" height="19.60" fill="#e7967c"/><rect x="24.25" y="491.0" width="7.1" height="11.70" fill="#9fdfc6"/><rect x="33.18" y="379.2" width="7.1" height="123.50" fill="#c7afdf"/><rect x="33.18" y="481.0" width="7.1" height="21.70" fill="#e7967c"/><rect x="33.18" y="484.2" width="7.1" height="18.50" fill="#9fdfc6"/><rect x="42.11" y="393.7" width="7.1" height="109.00" fill="#c7afdf"/><rect x="42.11" y="484.1" width="7.1" height="18.60" fill="#e7967c"/><rect x="42.11" y="489.5" width="7.1" height="13.20" fill="#9fdfc6"/><rect x="51.04" y="422.6" width="7.1" height="80.10" fill="#c7afdf"/><rect x="51.04" y="488.0" width="7.1" height="14.70" fill="#e7967c"/><rect x="51.04" y="491.0" width="7.1" height="11.70" fill="#9fdfc6"/><rect x="59.97" y="424.9" width="7.1" height="77.80" fill="#c7afdf"/><rect x="59.97" y="489.7" width="7.1" height="13.00" fill="#e7967c"/><rect x="59.97" y="491.0" width="7.1" height="11.70" fill="#9fdfc6"/><rect x="68.90" y="351.7" width="7.1" height="151.00" fill="#c7afdf"/><rect x="68.90" y="476.1" width="7.1" height="26.60" fill="#e7967c"/><rect x="68.90" y="481.7" width="7.1" height="21.00" fill="#9fdfc6"/><rect x="77.83" y="411.0" width="7.1" height="91.70" fill="#c7afdf"/><rect x="77.83" y="487.9" width="7.1" height="14.80" fill="#e7967c"/><rect x="77.83" y="491.9" width="7.1" height="10.80" fill="#9fdfc6"/><rect x="86.76" y="451.3" width="7.1" height="51.40" fill="#c7afdf"/><rect x="86.76" y="495.5" width="7.1" height="7.20" fill="#e7967c"/><rect x="86.76" y="497.4" width="7.1" height="5.30" fill="#9fdfc6"/><rect x="95.69" y="430.7" width="7.1" height="72.00" fill="#c7afdf"/><rect x="95.69" y="489.6" width="7.1" height="13.10" fill="#e7967c"/><rect x="95.69" y="491.9" width="7.1" height="10.80" fill="#9fdfc6"/><rect x="104.62" y="466.0" width="7.1" height="36.70" fill="#c7afdf"/><rect x="104.62" y="497.9" width="7.1" height="4.80" fill="#e7967c"/><rect x="104.62" y="498.8" width="7.1" height="3.90" fill="#9fdfc6"/><rect x="113.55" y="474.0" width="7.1" height="28.70" fill="#c7afdf"/><rect x="113.55" y="498.0" width="7.1" height="4.70" fill="#e7967c"/><rect x="113.55" y="498.8" width="7.1" height="3.90" fill="#9fdfc6"/><rect x="122.48" y="414.8" width="7.1" height="87.90" fill="#c7afdf"/><rect x="122.48" y="487.3" width="7.1" height="15.40" fill="#e7967c"/><rect x="122.48" y="491.0" width="7.1" height="11.70" fill="#9fdfc6"/><rect x="131.41" y="406.9" width="7.1" height="95.80" fill="#c7afdf"/><rect x="131.41" y="487.0" width="7.1" height="15.70" fill="#e7967c"/><rect x="131.41" y="493.2" width="7.1" height="9.50" fill="#9fdfc6"/><rect x="140.34" y="414.8" width="7.1" height="87.90" fill="#c7afdf"/><rect x="140.34" y="487.9" width="7.1" height="14.80" fill="#e7967c"/><rect x="140.34" y="491.9" width="7.1" height="10.80" fill="#9fdfc6"/><rect x="149.27" y="444.9" width="7.1" height="57.80" fill="#c7afdf"/><rect x="149.27" y="493.6" width="7.1" height="9.10" fill="#e7967c"/><rect x="149.27" y="497.4" width="7.1" height="5.30" fill="#9fdfc6"/><rect x="158.20" y="476.2" width="7.1" height="26.50" fill="#c7afdf"/><rect x="158.20" y="497.0" width="7.1" height="5.70" fill="#e7967c"/><rect x="158.20" y="500.9" width="7.1" height="1.80" fill="#9fdfc6"/><rect x="167.13" y="462.0" width="7.1" height="40.70" fill="#c7afdf"/><rect x="167.13" y="491.6" width="7.1" height="11.10" fill="#e7967c"/><rect x="167.13" y="492.0" width="7.1" height="10.70" fill="#9fdfc6"/><rect x="176.06" y="467.0" width="7.1" height="35.70" fill="#c7afdf"/><rect x="176.06" y="496.1" width="7.1" height="6.60" fill="#e7967c"/><rect x="176.06" y="498.7" width="7.1" height="4.00" fill="#9fdfc6"/><ellipse cx="26.0" cy="341.1" rx="2.7" ry="3.3" fill="#c2301c" stroke="#fff" stroke-width="0.4"/><ellipse cx="36.2" cy="357.9" rx="2.7" ry="3.3" fill="#c2301c" stroke="#fff" stroke-width="0.4"/><ellipse cx="46.4" cy="388.4" rx="2.7" ry="3.3" fill="#c2301c" stroke="#fff" stroke-width="0.4"/><ellipse cx="55.5" cy="392.4" rx="2.7" ry="3.3" fill="#c2301c" stroke="#fff" stroke-width="0.4"/><ellipse cx="64.2" cy="401.3" rx="2.7" ry="3.3" fill="#c2301c" stroke="#fff" stroke-width="0.4"/><ellipse cx="72.3" cy="351.4" rx="2.7" ry="3.3" fill="#c2301c" stroke="#fff" stroke-width="0.4"/><ellipse cx="80.7" cy="389.8" rx="2.7" ry="3.3" fill="#c2301c" stroke="#fff" stroke-width="0.4"/><ellipse cx="91.0" cy="376.5" rx="2.7" ry="3.3" fill="#c2301c" stroke="#fff" stroke-width="0.4"/><ellipse cx="98.8" cy="384.6" rx="2.7" ry="3.3" fill="#c2301c" stroke="#fff" stroke-width="0.4"/><ellipse cx="108.3" cy="410.9" rx="2.7" ry="3.3" fill="#c2301c" stroke="#fff" stroke-width="0.4"/><ellipse cx="116.2" cy="413.7" rx="2.7" ry="3.3" fill="#c2301c" stroke="#fff" stroke-width="0.4"/><ellipse cx="125.0" cy="431.9" rx="2.7" ry="3.3" fill="#c2301c" stroke="#fff" stroke-width="0.4"/><ellipse cx="135.1" cy="366.3" rx="2.7" ry="3.3" fill="#c2301c" stroke="#fff" stroke-width="0.4"/><ellipse cx="144.6" cy="376.7" rx="2.7" ry="3.3" fill="#c2301c" stroke="#fff" stroke-width="0.4"/><ellipse cx="152.7" cy="402.2" rx="2.7" ry="3.3" fill="#c2301c" stroke="#fff" stroke-width="0.4"/><ellipse cx="161.5" cy="421.2" rx="2.7" ry="3.3" fill="#c2301c" stroke="#fff" stroke-width="0.4"/><ellipse cx="171.7" cy="431.8" rx="2.7" ry="3.3" fill="#c2301c" stroke="#fff" stroke-width="0.4"/><ellipse cx="180.3" cy="456.8" rx="2.7" ry="3.3" fill="#c2301c" stroke="#fff" stroke-width="0.4"/><path d="M22.8 503.1 L22.8 324.9 L187.3 324.9" fill="none" stroke="#111" stroke-width="1.2"/><line x1="22.2" y1="503.2" x2="187.9" y2="503.2" stroke="#111" stroke-width="1.3"/><line x1="187.4" y1="324.3" x2="187.4" y2="503.8" stroke="#c8321e" stroke-width="1.2"/><line x1="20.6" y1="358.6" x2="22.8" y2="358.6" stroke="#111" stroke-width="0.9"/><line x1="20.6" y1="395.3" x2="22.8" y2="395.3" stroke="#111" stroke-width="0.9"/><line x1="20.6" y1="429.7" x2="22.8" y2="429.7" stroke="#111" stroke-width="0.9"/><line x1="20.6" y1="463.8" x2="22.8" y2="463.8" stroke="#111" stroke-width="0.9"/><text x="19.0" y="331.70000000000005" font-size="11.6" font-weight="bold" font-style="normal" fill="#000" text-anchor="end" >10</text><text x="19.0" y="363.40000000000003" font-size="11.6" font-weight="bold" font-style="normal" fill="#000" text-anchor="end" >8</text><text x="19.0" y="399.5" font-size="11.6" font-weight="bold" font-style="normal" fill="#000" text-anchor="end" >6</text><text x="19.0" y="433.6" font-size="11.6" font-weight="bold" font-style="normal" fill="#000" text-anchor="end" >4</text><text x="19.0" y="468.3" font-size="11.6" font-weight="bold" font-style="normal" fill="#000" text-anchor="end" >2</text><line x1="187.4" y1="336.4" x2="189.4" y2="336.4" stroke="#c4361f" stroke-width="0.9"/><text x="187.8" y="341.0" font-size="13.0" font-weight="bold" font-style="normal" fill="#c4361f" text-anchor="start" textLength="21.6" lengthAdjust="spacingAndGlyphs" >120</text><line x1="187.4" y1="365.1" x2="189.4" y2="365.1" stroke="#c4361f" stroke-width="0.9"/><text x="187.8" y="369.70000000000005" font-size="13.0" font-weight="bold" font-style="normal" fill="#c4361f" text-anchor="start" textLength="21.6" lengthAdjust="spacingAndGlyphs" >100</text><line x1="187.4" y1="394.6" x2="189.4" y2="394.6" stroke="#c4361f" stroke-width="0.9"/><text x="189.6" y="399.20000000000005" font-size="13.0" font-weight="bold" font-style="normal" fill="#c4361f" text-anchor="start" textLength="14.4" lengthAdjust="spacingAndGlyphs" >80</text><line x1="187.4" y1="423.0" x2="189.4" y2="423.0" stroke="#c4361f" stroke-width="0.9"/><text x="189.6" y="427.6" font-size="13.0" font-weight="bold" font-style="normal" fill="#c4361f" text-anchor="start" textLength="14.4" lengthAdjust="spacingAndGlyphs" >60</text><line x1="187.4" y1="449.3" x2="189.4" y2="449.3" stroke="#c4361f" stroke-width="0.9"/><text x="189.6" y="453.90000000000003" font-size="13.0" font-weight="bold" font-style="normal" fill="#c4361f" text-anchor="start" textLength="14.4" lengthAdjust="spacingAndGlyphs" >40</text><line x1="187.4" y1="476.0" x2="189.4" y2="476.0" stroke="#c4361f" stroke-width="0.9"/><text x="189.6" y="480.6" font-size="13.0" font-weight="bold" font-style="normal" fill="#c4361f" text-anchor="start" textLength="14.4" lengthAdjust="spacingAndGlyphs" >20</text><text x="0" y="0" font-size="12.7" font-weight="bold" text-anchor="middle" transform="translate(10.8 412.9) rotate(-90)">Number(10<tspan font-size="8.2" dy="-4.4">3</tspan><tspan dy="4.4">)</tspan></text><text x="0" y="0" font-size="12.2" font-weight="bold" fill="#c4361f" text-anchor="middle" transform="translate(210.0 409.5) rotate(90) scale(1.16 1.3)">Number (10<tspan font-size="7.8" dy="-4.2">4</tspan><tspan dy="4.2">)</tspan></text><text x="0.4" y="515.9" font-size="12.9" font-weight="bold" font-style="normal" fill="#000" text-anchor="start" textLength="22.4" lengthAdjust="spacingAndGlyphs" >Chr</text><text x="36.5" y="516.2" font-size="12.2" font-weight="bold" font-style="normal" fill="#000" text-anchor="middle" >2</text><text x="71.9" y="516.2" font-size="12.2" font-weight="bold" font-style="normal" fill="#000" text-anchor="middle" >6</text><text x="109.6" y="516.2" font-size="12.2" font-weight="bold" font-style="normal" fill="#000" text-anchor="middle" >10</text><text x="142.6" y="516.2" font-size="12.2" font-weight="bold" font-style="normal" fill="#000" text-anchor="middle" >14</text><text x="180.3" y="516.2" font-size="12.2" font-weight="bold" font-style="normal" fill="#000" text-anchor="middle" >18</text><circle cx="144.0" cy="333.8" r="3.0" fill="#c2301c"/><rect x="140.8" y="339.2" width="6.5" height="4.6" fill="#c7afdf"/><rect x="140.8" y="347.4" width="6.5" height="4.6" fill="#e7967c"/><rect x="140.8" y="355.7" width="6.5" height="4.7" fill="#9fdfc6"/><text x="148.2" y="336.0" font-size="8.7" font-weight="bold" font-style="normal" fill="#000" text-anchor="start" textLength="17.8" lengthAdjust="spacingAndGlyphs" >SNP</text><text x="148.0" y="343.9" font-size="8.7" font-weight="bold" font-style="normal" fill="#000" text-anchor="start" textLength="18.6" lengthAdjust="spacingAndGlyphs" >Gene</text><text x="148.0" y="351.8" font-size="8.7" font-weight="bold" font-style="normal" fill="#000" text-anchor="start" textLength="36.8" lengthAdjust="spacingAndGlyphs" >AS event</text><text x="148.0" y="360.3" font-size="8.7" font-weight="bold" font-style="normal" fill="#000" text-anchor="start" textLength="35.4" lengthAdjust="spacingAndGlyphs" >APA site</text><text x="270.3" y="321.7" font-size="13.6" font-weight="bold" font-style="normal" fill="#000" text-anchor="start" textLength="111.0" lengthAdjust="spacingAndGlyphs" >gene expression</text><circle cx="335.23" cy="339.80" r="1.7" fill="#e7a4ab"/><circle cx="320.15" cy="341.93" r="1.7" fill="#e7a4ab"/><circle cx="360.57" cy="339.83" r="1.7" fill="#e7a4ab"/><circle cx="352.39" cy="341.75" r="1.7" fill="#e7a4ab"/><circle cx="316.22" cy="340.31" r="1.7" fill="#e7a4ab"/><circle cx="370.54" cy="339.89" r="1.7" fill="#e7a4ab"/><circle cx="321.45" cy="341.36" r="1.7" fill="#e7a4ab"/><circle cx="318.80" cy="339.26" r="1.7" fill="#e7a4ab"/><circle cx="324.38" cy="345.48" r="1.7" fill="#e7a4ab"/><circle cx="351.70" cy="343.29" r="1.7" fill="#e7a4ab"/><circle cx="346.08" cy="340.98" r="1.7" fill="#e7a4ab"/><circle cx="335.15" cy="336.83" r="1.7" fill="#e7a4ab"/><circle cx="335.25" cy="339.06" r="1.7" fill="#e7a4ab"/><circle cx="345.77" cy="344.30" r="1.7" fill="#e7a4ab"/><circle cx="320.02" cy="342.66" r="1.7" fill="#e7a4ab"/><circle cx="322.04" cy="343.51" r="1.7" fill="#e7a4ab"/><circle cx="314.72" cy="338.40" r="1.7" fill="#e7a4ab"/><circle cx="367.72" cy="334.50" r="1.7" fill="#e7a4ab"/><circle cx="342.21" cy="343.02" r="1.7" fill="#e7a4ab"/><circle cx="365.74" cy="343.40" r="1.7" fill="#e7a4ab"/><circle cx="316.13" cy="339.92" r="1.7" fill="#e7a4ab"/><circle cx="353.59" cy="346.52" r="1.7" fill="#e7a4ab"/><circle cx="359.70" cy="339.44" r="1.7" fill="#e7a4ab"/><circle cx="334.81" cy="338.59" r="1.7" fill="#e7a4ab"/><circle cx="343.67" cy="340.96" r="1.7" fill="#e7a4ab"/><circle cx="337.66" cy="343.38" r="1.7" fill="#e7a4ab"/><circle cx="343.88" cy="342.15" r="1.7" fill="#e7a4ab"/><circle cx="339.37" cy="340.20" r="1.7" fill="#e7a4ab"/><circle cx="353.37" cy="340.30" r="1.7" fill="#e7a4ab"/><circle cx="335.67" cy="339.92" r="1.7" fill="#e7a4ab"/><circle cx="338.04" cy="341.09" r="1.7" fill="#e7a4ab"/><circle cx="345.87" cy="344.07" r="1.7" fill="#e7a4ab"/><circle cx="371.09" cy="339.39" r="1.7" fill="#e7a4ab"/><circle cx="372.67" cy="341.12" r="1.7" fill="#e7a4ab"/><circle cx="359.05" cy="333.15" r="1.7" fill="#e7a4ab"/><circle cx="355.57" cy="341.91" r="1.7" fill="#e7a4ab"/><circle cx="337.48" cy="337.46" r="1.7" fill="#e7a4ab"/><circle cx="338.74" cy="340.04" r="1.7" fill="#e7a4ab"/><circle cx="346.25" cy="343.13" r="1.7" fill="#e7a4ab"/><circle cx="346.34" cy="339.36" r="1.7" fill="#e7a4ab"/><circle cx="351.34" cy="342.30" r="1.7" fill="#e7a4ab"/><circle cx="346.31" cy="344.23" r="1.7" fill="#e7a4ab"/><circle cx="319.60" cy="339.85" r="1.7" fill="#e7a4ab"/><circle cx="345.74" cy="343.35" r="1.7" fill="#e7a4ab"/><circle cx="344.96" cy="336.40" r="1.7" fill="#e7a4ab"/><circle cx="368.13" cy="340.39" r="1.7" fill="#e7a4ab"/><circle cx="360.39" cy="338.39" r="1.7" fill="#e7a4ab"/><circle cx="349.41" cy="341.86" r="1.7" fill="#e7a4ab"/><circle cx="335.16" cy="338.25" r="1.7" fill="#e7a4ab"/><circle cx="334.80" cy="338.56" r="1.7" fill="#e7a4ab"/><circle cx="324.58" cy="337.00" r="1.7" fill="#e7a4ab"/><circle cx="359.79" cy="338.28" r="1.7" fill="#e7a4ab"/><circle cx="334.91" cy="341.48" r="1.7" fill="#e7a4ab"/><circle cx="345.57" cy="343.71" r="1.7" fill="#e7a4ab"/><circle cx="349.20" cy="343.88" r="1.7" fill="#e7a4ab"/><circle cx="335.13" cy="338.91" r="1.7" fill="#e7a4ab"/><circle cx="374.86" cy="340.00" r="1.7" fill="#e7a4ab"/><circle cx="365.23" cy="338.00" r="1.7" fill="#e7a4ab"/><circle cx="361.16" cy="337.49" r="1.7" fill="#e7a4ab"/><circle cx="323.67" cy="341.78" r="1.7" fill="#e7a4ab"/><circle cx="359.90" cy="338.52" r="1.7" fill="#e7a4ab"/><circle cx="340.97" cy="339.65" r="1.7" fill="#e7a4ab"/><circle cx="353.83" cy="336.51" r="1.7" fill="#e7a4ab"/><circle cx="371.72" cy="336.50" r="1.7" fill="#e7a4ab"/><circle cx="371.35" cy="339.61" r="1.7" fill="#e7a4ab"/><circle cx="353.30" cy="332.12" r="1.7" fill="#e7a4ab"/><circle cx="334.72" cy="339.91" r="1.7" fill="#e7a4ab"/><circle cx="343.60" cy="342.35" r="1.7" fill="#e7a4ab"/><circle cx="370.97" cy="339.23" r="1.7" fill="#e7a4ab"/><circle cx="334.80" cy="341.57" r="1.7" fill="#e7a4ab"/><circle cx="349.43" cy="343.20" r="1.7" fill="#e7a4ab"/><circle cx="344.09" cy="338.33" r="1.7" fill="#e7a4ab"/><circle cx="345.66" cy="344.04" r="1.7" fill="#e7a4ab"/><circle cx="323.73" cy="342.10" r="1.7" fill="#e7a4ab"/><circle cx="369.36" cy="339.46" r="1.7" fill="#e7a4ab"/><circle cx="367.29" cy="338.92" r="1.7" fill="#e7a4ab"/><circle cx="368.35" cy="338.86" r="1.7" fill="#e7a4ab"/><circle cx="335.11" cy="341.03" r="1.7" fill="#e7a4ab"/><circle cx="347.98" cy="340.74" r="1.7" fill="#e7a4ab"/><circle cx="364.57" cy="340.62" r="1.7" fill="#e7a4ab"/><circle cx="344.74" cy="342.65" r="1.7" fill="#e7a4ab"/><circle cx="372.11" cy="340.76" r="1.7" fill="#e7a4ab"/><circle cx="368.02" cy="342.14" r="1.7" fill="#e7a4ab"/><circle cx="372.15" cy="338.54" r="1.7" fill="#e7a4ab"/><circle cx="321.11" cy="343.81" r="1.7" fill="#e7a4ab"/><circle cx="338.86" cy="339.02" r="1.7" fill="#e7a4ab"/><circle cx="324.25" cy="342.33" r="1.7" fill="#e7a4ab"/><circle cx="354.18" cy="338.85" r="1.7" fill="#e7a4ab"/><circle cx="338.66" cy="339.42" r="1.7" fill="#e7a4ab"/><circle cx="322.59" cy="341.90" r="1.7" fill="#e7a4ab"/><circle cx="368.50" cy="340.00" r="1.7" fill="#e7a4ab"/><circle cx="323.25" cy="341.93" r="1.7" fill="#e7a4ab"/><circle cx="340.37" cy="343.59" r="1.7" fill="#e7a4ab"/><circle cx="344.84" cy="340.71" r="1.7" fill="#e7a4ab"/><circle cx="337.83" cy="339.49" r="1.7" fill="#e7a4ab"/><circle cx="324.89" cy="341.77" r="1.7" fill="#e7a4ab"/><circle cx="364.44" cy="342.79" r="1.7" fill="#e7a4ab"/><circle cx="337.95" cy="336.35" r="1.7" fill="#e7a4ab"/><circle cx="344.89" cy="337.27" r="1.7" fill="#e7a4ab"/><circle cx="336.23" cy="339.33" r="1.7" fill="#e7a4ab"/><circle cx="352.60" cy="340.72" r="1.7" fill="#e7a4ab"/><circle cx="317.66" cy="342.01" r="1.7" fill="#e7a4ab"/><circle cx="341.08" cy="339.46" r="1.7" fill="#e7a4ab"/><circle cx="365.36" cy="340.43" r="1.7" fill="#e7a4ab"/><circle cx="315.00" cy="339.24" r="1.7" fill="#e7a4ab"/><circle cx="328.69" cy="332.94" r="1.7" fill="#e7a4ab"/><circle cx="342.92" cy="342.90" r="1.7" fill="#e7a4ab"/><circle cx="357.68" cy="338.93" r="1.7" fill="#e7a4ab"/><circle cx="324.16" cy="342.02" r="1.7" fill="#e7a4ab"/><circle cx="369.20" cy="339.46" r="1.7" fill="#e7a4ab"/><circle cx="364.12" cy="337.09" r="1.7" fill="#e7a4ab"/><circle cx="331.79" cy="338.70" r="1.7" fill="#e7a4ab"/><circle cx="332.36" cy="341.02" r="1.7" fill="#e7a4ab"/><circle cx="352.60" cy="337.47" r="1.7" fill="#e7a4ab"/><circle cx="338.08" cy="340.69" r="1.7" fill="#e7a4ab"/><circle cx="339.67" cy="340.96" r="1.7" fill="#e7a4ab"/><circle cx="363.70" cy="337.86" r="1.7" fill="#e7a4ab"/><circle cx="335.73" cy="339.39" r="1.7" fill="#e7a4ab"/><circle cx="343.27" cy="343.64" r="1.7" fill="#e7a4ab"/><circle cx="373.96" cy="336.96" r="1.7" fill="#e7a4ab"/><circle cx="331.94" cy="340.01" r="1.7" fill="#e7a4ab"/><circle cx="322.74" cy="342.31" r="1.7" fill="#e7a4ab"/><circle cx="336.25" cy="341.02" r="1.7" fill="#e7a4ab"/><circle cx="325.79" cy="342.66" r="1.7" fill="#e7a4ab"/><circle cx="344.73" cy="343.87" r="1.7" fill="#e7a4ab"/><circle cx="345.90" cy="340.34" r="1.7" fill="#e7a4ab"/><circle cx="367.95" cy="334.55" r="1.7" fill="#e7a4ab"/><circle cx="344.78" cy="342.67" r="1.7" fill="#e7a4ab"/><circle cx="370.46" cy="339.40" r="1.7" fill="#e7a4ab"/><circle cx="368.80" cy="335.67" r="1.7" fill="#e7a4ab"/><circle cx="321.03" cy="337.06" r="1.7" fill="#e7a4ab"/><circle cx="344.43" cy="343.56" r="1.7" fill="#e7a4ab"/><circle cx="349.22" cy="334.82" r="1.7" fill="#e7a4ab"/><circle cx="355.63" cy="339.14" r="1.7" fill="#e7a4ab"/><circle cx="333.60" cy="338.34" r="1.7" fill="#e7a4ab"/><circle cx="352.89" cy="338.01" r="1.7" fill="#e7a4ab"/><circle cx="355.46" cy="338.27" r="1.7" fill="#e7a4ab"/><circle cx="312.58" cy="343.07" r="1.7" fill="#e7a4ab"/><circle cx="346.11" cy="334.81" r="1.7" fill="#e7a4ab"/><circle cx="316.51" cy="341.03" r="1.7" fill="#e7a4ab"/><circle cx="343.20" cy="343.58" r="1.7" fill="#e7a4ab"/><circle cx="366.09" cy="337.87" r="1.7" fill="#e7a4ab"/><circle cx="355.71" cy="340.15" r="1.7" fill="#e7a4ab"/><circle cx="351.45" cy="339.28" r="1.7" fill="#e7a4ab"/><circle cx="344.49" cy="342.85" r="1.7" fill="#e7a4ab"/><circle cx="320.65" cy="336.77" r="1.7" fill="#e7a4ab"/><circle cx="343.20" cy="341.97" r="1.7" fill="#e7a4ab"/><circle cx="359.68" cy="338.62" r="1.7" fill="#e7a4ab"/><circle cx="342.04" cy="344.49" r="1.7" fill="#e7a4ab"/><circle cx="373.61" cy="341.17" r="1.7" fill="#e7a4ab"/><circle cx="340.89" cy="342.12" r="1.7" fill="#e7a4ab"/><circle cx="343.44" cy="338.44" r="1.7" fill="#e7a4ab"/><circle cx="325.63" cy="342.60" r="1.7" fill="#e7a4ab"/><circle cx="320.79" cy="342.88" r="1.7" fill="#e7a4ab"/><circle cx="356.84" cy="336.24" r="1.7" fill="#e7a4ab"/><circle cx="358.29" cy="339.21" r="1.7" fill="#e7a4ab"/><circle cx="355.43" cy="335.39" r="1.7" fill="#e7a4ab"/><circle cx="363.27" cy="338.13" r="1.7" fill="#e7a4ab"/><circle cx="350.58" cy="343.41" r="1.7" fill="#e7a4ab"/><circle cx="357.52" cy="338.47" r="1.7" fill="#e7a4ab"/><circle cx="274.79" cy="344.90" r="1.7" fill="#8db9e2"/><circle cx="286.17" cy="347.44" r="1.7" fill="#8db9e2"/><circle cx="280.04" cy="346.04" r="1.7" fill="#8db9e2"/><circle cx="295.32" cy="343.75" r="1.7" fill="#8db9e2"/><circle cx="291.47" cy="341.65" r="1.7" fill="#8db9e2"/><circle cx="292.39" cy="344.36" r="1.7" fill="#8db9e2"/><circle cx="266.76" cy="349.96" r="1.7" fill="#8db9e2"/><circle cx="283.37" cy="341.47" r="1.7" fill="#8db9e2"/><circle cx="278.82" cy="348.84" r="1.7" fill="#8db9e2"/><circle cx="290.51" cy="341.57" r="1.7" fill="#8db9e2"/><circle cx="293.66" cy="345.14" r="1.7" fill="#8db9e2"/><circle cx="276.47" cy="350.30" r="1.7" fill="#8db9e2"/><circle cx="298.40" cy="341.13" r="1.7" fill="#8db9e2"/><circle cx="285.80" cy="350.40" r="1.7" fill="#8db9e2"/><circle cx="271.67" cy="349.80" r="1.7" fill="#8db9e2"/><circle cx="282.95" cy="347.73" r="1.7" fill="#8db9e2"/><circle cx="288.81" cy="343.02" r="1.7" fill="#8db9e2"/><circle cx="275.24" cy="349.87" r="1.7" fill="#8db9e2"/><circle cx="275.27" cy="342.69" r="1.7" fill="#8db9e2"/><circle cx="278.22" cy="348.55" r="1.7" fill="#8db9e2"/><circle cx="282.34" cy="341.64" r="1.7" fill="#8db9e2"/><circle cx="277.77" cy="349.72" r="1.7" fill="#8db9e2"/><circle cx="270.23" cy="349.96" r="1.7" fill="#8db9e2"/><circle cx="287.28" cy="346.13" r="1.7" fill="#8db9e2"/><circle cx="273.56" cy="348.80" r="1.7" fill="#8db9e2"/><circle cx="277.09" cy="350.71" r="1.7" fill="#8db9e2"/><circle cx="298.90" cy="344.20" r="1.7" fill="#8db9e2"/><circle cx="293.42" cy="345.70" r="1.7" fill="#8db9e2"/><circle cx="284.40" cy="349.08" r="1.7" fill="#8db9e2"/><circle cx="280.92" cy="346.58" r="1.7" fill="#8db9e2"/><circle cx="293.68" cy="345.62" r="1.7" fill="#8db9e2"/><circle cx="295.24" cy="346.88" r="1.7" fill="#8db9e2"/><circle cx="268.57" cy="349.24" r="1.7" fill="#8db9e2"/><circle cx="294.92" cy="345.17" r="1.7" fill="#8db9e2"/><circle cx="269.36" cy="346.31" r="1.7" fill="#8db9e2"/><circle cx="291.81" cy="345.52" r="1.7" fill="#8db9e2"/><circle cx="283.09" cy="344.35" r="1.7" fill="#8db9e2"/><circle cx="273.11" cy="347.58" r="1.7" fill="#8db9e2"/><circle cx="281.10" cy="345.63" r="1.7" fill="#8db9e2"/><circle cx="288.15" cy="347.42" r="1.7" fill="#8db9e2"/><circle cx="273.47" cy="350.68" r="1.7" fill="#8db9e2"/><circle cx="267.75" cy="350.15" r="1.7" fill="#8db9e2"/><circle cx="294.25" cy="344.17" r="1.7" fill="#8db9e2"/><circle cx="287.67" cy="343.05" r="1.7" fill="#8db9e2"/><circle cx="285.58" cy="343.06" r="1.7" fill="#8db9e2"/><circle cx="290.83" cy="343.28" r="1.7" fill="#8db9e2"/><circle cx="273.31" cy="347.35" r="1.7" fill="#8db9e2"/><circle cx="288.98" cy="343.78" r="1.7" fill="#8db9e2"/><circle cx="295.31" cy="344.58" r="1.7" fill="#8db9e2"/><circle cx="296.41" cy="344.00" r="1.7" fill="#8db9e2"/><circle cx="286.51" cy="342.31" r="1.7" fill="#8db9e2"/><circle cx="269.97" cy="350.74" r="1.7" fill="#8db9e2"/><circle cx="274.44" cy="350.03" r="1.7" fill="#8db9e2"/><circle cx="292.13" cy="348.73" r="1.7" fill="#8db9e2"/><circle cx="278.54" cy="347.76" r="1.7" fill="#8db9e2"/><circle cx="272.16" cy="351.42" r="1.7" fill="#8db9e2"/><circle cx="297.81" cy="341.70" r="1.7" fill="#8db9e2"/><circle cx="272.34" cy="351.11" r="1.7" fill="#8db9e2"/><circle cx="293.96" cy="347.80" r="1.7" fill="#8db9e2"/><circle cx="296.52" cy="344.24" r="1.7" fill="#8db9e2"/><circle cx="295.53" cy="341.00" r="1.7" fill="#8db9e2"/><circle cx="286.57" cy="344.87" r="1.7" fill="#8db9e2"/><circle cx="276.67" cy="340.29" r="1.7" fill="#8db9e2"/><circle cx="276.00" cy="349.10" r="1.7" fill="#8db9e2"/><circle cx="286.31" cy="344.14" r="1.7" fill="#8db9e2"/><circle cx="276.46" cy="353.30" r="1.7" fill="#8db9e2"/><circle cx="297.09" cy="343.15" r="1.7" fill="#8db9e2"/><circle cx="266.63" cy="350.15" r="1.7" fill="#8db9e2"/><circle cx="273.15" cy="343.93" r="1.7" fill="#8db9e2"/><circle cx="272.32" cy="350.16" r="1.7" fill="#8db9e2"/><circle cx="291.22" cy="346.29" r="1.7" fill="#8db9e2"/><circle cx="275.27" cy="341.48" r="1.7" fill="#8db9e2"/><circle cx="277.94" cy="347.10" r="1.7" fill="#8db9e2"/><circle cx="274.11" cy="349.62" r="1.7" fill="#8db9e2"/><circle cx="295.42" cy="343.69" r="1.7" fill="#8db9e2"/><circle cx="269.09" cy="348.43" r="1.7" fill="#8db9e2"/><circle cx="295.61" cy="344.22" r="1.7" fill="#8db9e2"/><circle cx="288.89" cy="341.27" r="1.7" fill="#8db9e2"/><circle cx="286.76" cy="345.42" r="1.7" fill="#8db9e2"/><circle cx="291.62" cy="346.52" r="1.7" fill="#8db9e2"/><circle cx="283.28" cy="344.16" r="1.7" fill="#8db9e2"/><circle cx="291.66" cy="348.06" r="1.7" fill="#8db9e2"/><circle cx="275.87" cy="349.76" r="1.7" fill="#8db9e2"/><circle cx="295.13" cy="344.43" r="1.7" fill="#8db9e2"/><circle cx="273.32" cy="349.79" r="1.7" fill="#8db9e2"/><circle cx="288.08" cy="345.96" r="1.7" fill="#8db9e2"/><circle cx="293.19" cy="342.73" r="1.7" fill="#8db9e2"/><circle cx="297.17" cy="344.94" r="1.7" fill="#8db9e2"/><circle cx="275.22" cy="347.99" r="1.7" fill="#8db9e2"/><circle cx="272.12" cy="348.90" r="1.7" fill="#8db9e2"/><circle cx="275.80" cy="352.93" r="1.7" fill="#8db9e2"/><circle cx="273.80" cy="351.07" r="1.7" fill="#8db9e2"/><circle cx="270.66" cy="349.51" r="1.7" fill="#8db9e2"/><circle cx="288.28" cy="346.96" r="1.7" fill="#8db9e2"/><circle cx="275.87" cy="348.34" r="1.7" fill="#8db9e2"/><circle cx="286.77" cy="345.36" r="1.7" fill="#8db9e2"/><circle cx="282.06" cy="346.18" r="1.7" fill="#8db9e2"/><circle cx="292.15" cy="341.95" r="1.7" fill="#8db9e2"/><circle cx="287.17" cy="342.46" r="1.7" fill="#8db9e2"/><circle cx="276.21" cy="352.97" r="1.7" fill="#8db9e2"/><circle cx="267.33" cy="349.10" r="1.7" fill="#8db9e2"/><circle cx="295.23" cy="341.67" r="1.7" fill="#8db9e2"/><circle cx="292.74" cy="343.33" r="1.7" fill="#8db9e2"/><circle cx="276.98" cy="339.38" r="1.7" fill="#8db9e2"/><circle cx="272.23" cy="353.46" r="1.7" fill="#8db9e2"/><circle cx="271.21" cy="351.39" r="1.7" fill="#8db9e2"/><circle cx="272.36" cy="353.11" r="1.7" fill="#8db9e2"/><circle cx="296.37" cy="342.47" r="1.7" fill="#8db9e2"/><circle cx="297.57" cy="343.02" r="1.7" fill="#8db9e2"/><circle cx="285.88" cy="344.85" r="1.7" fill="#8db9e2"/><ellipse cx="343.5" cy="340.4" rx="36.7" ry="10.2" transform="rotate(-1.8 343.5 340.4)" fill="none" stroke="#e2a1a7" stroke-width="1.6"/><ellipse cx="282.5" cy="345.6" rx="20.4" ry="8.94" transform="rotate(-14.5 282.5 345.6)" fill="none" stroke="#88b6e0" stroke-width="1.6"/><rect x="262.9" y="325.3" width="120.40000000000003" height="179.2" fill="none" stroke="#111" stroke-width="1.2"/><text x="255.0" y="339.7" font-size="11.8" font-weight="bold" font-style="normal" fill="#000" text-anchor="end" >0</text><text x="262.3" y="395.3" font-size="11.8" font-weight="bold" font-style="normal" fill="#000" text-anchor="end" >−200</text><text x="262.3" y="451.9" font-size="11.8" font-weight="bold" font-style="normal" fill="#000" text-anchor="end" >−400</text><text x="262.3" y="507.7" font-size="11.8" font-weight="bold" font-style="normal" fill="#000" text-anchor="end" >−600</text><text x="287.2" y="521.2" font-size="11.6" font-weight="bold" font-style="normal" fill="#000" text-anchor="middle" >−50</text><text x="310.0" y="521.2" font-size="11.6" font-weight="bold" font-style="normal" fill="#000" text-anchor="middle" >0</text><text x="342.5" y="521.2" font-size="11.6" font-weight="bold" font-style="normal" fill="#000" text-anchor="middle" >50</text><text x="374.2" y="521.2" font-size="11.6" font-weight="bold" font-style="normal" fill="#000" text-anchor="middle" >100</text><text x="314.1" y="535.0" font-size="11.6" font-weight="bold" font-style="normal" fill="#000" text-anchor="middle" >PC1</text><text x="0" y="0" font-size="12.5" font-weight="bold" text-anchor="middle" transform="translate(234.6 422.1) rotate(-90)">PC2</text><text x="336.8" y="463.8" font-size="9.6" font-weight="bold" font-style="normal" fill="#000" text-anchor="start" textLength="41.6" lengthAdjust="spacingAndGlyphs" >Cell type</text><ellipse cx="349.1" cy="472.3" rx="3.5" ry="4.6" fill="#e7a4ab"/><ellipse cx="348.8" cy="484.9" rx="3.5" ry="4.6" fill="#8db9e2"/><text x="353.9" y="474.7" font-size="9.6" font-weight="bold" font-style="normal" fill="#000" text-anchor="start" textLength="18.3" lengthAdjust="spacingAndGlyphs" >Neu</text><text x="352.3" y="489.4" font-size="9.6" font-weight="bold" font-style="normal" fill="#000" text-anchor="start" textLength="28.8" lengthAdjust="spacingAndGlyphs" >PBMC</text><text x="432.0" y="322.6" font-size="12.7" font-weight="bold" font-style="normal" fill="#000" text-anchor="start" textLength="48.8" lengthAdjust="spacingAndGlyphs" >splicing</text><circle cx="425.63" cy="371.74" r="1.8" fill="#8db9e2"/><circle cx="425.22" cy="374.26" r="1.8" fill="#8db9e2"/><circle cx="445.80" cy="466.58" r="1.8" fill="#8db9e2"/><circle cx="419.78" cy="434.05" r="1.8" fill="#8db9e2"/><circle cx="444.44" cy="460.47" r="1.8" fill="#8db9e2"/><circle cx="428.96" cy="418.16" r="1.8" fill="#8db9e2"/><circle cx="429.35" cy="399.59" r="1.8" fill="#8db9e2"/><circle cx="423.75" cy="348.73" r="1.8" fill="#8db9e2"/><circle cx="419.76" cy="388.79" r="1.8" fill="#8db9e2"/><circle cx="421.11" cy="429.10" r="1.8" fill="#8db9e2"/><circle cx="437.57" cy="404.91" r="1.8" fill="#8db9e2"/><circle cx="436.15" cy="388.26" r="1.8" fill="#8db9e2"/><circle cx="443.70" cy="430.23" r="1.8" fill="#8db9e2"/><circle cx="439.34" cy="422.86" r="1.8" fill="#8db9e2"/><circle cx="446.80" cy="413.75" r="1.8" fill="#8db9e2"/><circle cx="440.29" cy="427.86" r="1.8" fill="#8db9e2"/><circle cx="435.55" cy="378.59" r="1.8" fill="#8db9e2"/><circle cx="433.57" cy="383.10" r="1.8" fill="#8db9e2"/><circle cx="445.13" cy="456.06" r="1.8" fill="#8db9e2"/><circle cx="435.94" cy="441.56" r="1.8" fill="#8db9e2"/><circle cx="428.14" cy="431.89" r="1.8" fill="#8db9e2"/><circle cx="439.61" cy="429.88" r="1.8" fill="#8db9e2"/><circle cx="438.71" cy="425.47" r="1.8" fill="#8db9e2"/><circle cx="419.53" cy="373.09" r="1.8" fill="#8db9e2"/><circle cx="434.35" cy="434.58" r="1.8" fill="#8db9e2"/><circle cx="449.03" cy="454.71" r="1.8" fill="#8db9e2"/><circle cx="437.37" cy="391.32" r="1.8" fill="#8db9e2"/><circle cx="415.64" cy="411.09" r="1.8" fill="#8db9e2"/><circle cx="423.84" cy="380.09" r="1.8" fill="#8db9e2"/><circle cx="440.95" cy="465.65" r="1.8" fill="#8db9e2"/><circle cx="419.12" cy="398.11" r="1.8" fill="#8db9e2"/><circle cx="438.10" cy="426.48" r="1.8" fill="#8db9e2"/><circle cx="425.33" cy="366.66" r="1.8" fill="#8db9e2"/><circle cx="421.49" cy="376.06" r="1.8" fill="#8db9e2"/><circle cx="442.79" cy="393.06" r="1.8" fill="#8db9e2"/><circle cx="445.38" cy="459.82" r="1.8" fill="#8db9e2"/><circle cx="423.29" cy="364.83" r="1.8" fill="#8db9e2"/><circle cx="425.86" cy="421.11" r="1.8" fill="#8db9e2"/><circle cx="438.90" cy="428.65" r="1.8" fill="#8db9e2"/><circle cx="426.19" cy="393.37" r="1.8" fill="#8db9e2"/><circle cx="427.82" cy="391.52" r="1.8" fill="#8db9e2"/><circle cx="413.30" cy="383.82" r="1.8" fill="#8db9e2"/><circle cx="435.43" cy="388.12" r="1.8" fill="#8db9e2"/><circle cx="423.17" cy="431.55" r="1.8" fill="#8db9e2"/><circle cx="425.56" cy="367.73" r="1.8" fill="#8db9e2"/><circle cx="429.02" cy="377.03" r="1.8" fill="#8db9e2"/><circle cx="425.63" cy="374.83" r="1.8" fill="#8db9e2"/><circle cx="427.47" cy="363.32" r="1.8" fill="#8db9e2"/><circle cx="449.45" cy="432.54" r="1.8" fill="#8db9e2"/><circle cx="420.77" cy="369.30" r="1.8" fill="#8db9e2"/><circle cx="444.13" cy="463.51" r="1.8" fill="#8db9e2"/><circle cx="437.66" cy="449.91" r="1.8" fill="#8db9e2"/><circle cx="431.68" cy="450.50" r="1.8" fill="#8db9e2"/><circle cx="427.22" cy="399.20" r="1.8" fill="#8db9e2"/><circle cx="439.34" cy="476.01" r="1.8" fill="#8db9e2"/><circle cx="440.05" cy="378.77" r="1.8" fill="#8db9e2"/><circle cx="441.98" cy="440.40" r="1.8" fill="#8db9e2"/><circle cx="438.03" cy="483.10" r="1.8" fill="#8db9e2"/><circle cx="440.09" cy="365.04" r="1.8" fill="#8db9e2"/><circle cx="426.22" cy="391.66" r="1.8" fill="#8db9e2"/><circle cx="418.81" cy="392.24" r="1.8" fill="#8db9e2"/><circle cx="434.31" cy="375.83" r="1.8" fill="#8db9e2"/><circle cx="433.74" cy="386.45" r="1.8" fill="#8db9e2"/><circle cx="433.95" cy="379.18" r="1.8" fill="#8db9e2"/><circle cx="424.89" cy="370.91" r="1.8" fill="#8db9e2"/><circle cx="429.92" cy="392.60" r="1.8" fill="#8db9e2"/><circle cx="423.97" cy="369.64" r="1.8" fill="#8db9e2"/><circle cx="434.27" cy="377.26" r="1.8" fill="#8db9e2"/><circle cx="426.46" cy="420.97" r="1.8" fill="#8db9e2"/><circle cx="442.88" cy="468.69" r="1.8" fill="#8db9e2"/><circle cx="426.56" cy="377.90" r="1.8" fill="#8db9e2"/><circle cx="442.49" cy="432.74" r="1.8" fill="#8db9e2"/><circle cx="424.54" cy="362.13" r="1.8" fill="#8db9e2"/><circle cx="440.52" cy="383.26" r="1.8" fill="#8db9e2"/><circle cx="412.15" cy="383.58" r="1.8" fill="#8db9e2"/><circle cx="443.91" cy="437.41" r="1.8" fill="#8db9e2"/><circle cx="422.39" cy="413.23" r="1.8" fill="#8db9e2"/><circle cx="424.17" cy="368.96" r="1.8" fill="#8db9e2"/><circle cx="418.78" cy="358.47" r="1.8" fill="#8db9e2"/><circle cx="438.62" cy="445.22" r="1.8" fill="#8db9e2"/><circle cx="431.81" cy="425.95" r="1.8" fill="#8db9e2"/><circle cx="437.59" cy="382.90" r="1.8" fill="#8db9e2"/><circle cx="418.13" cy="352.08" r="1.8" fill="#8db9e2"/><circle cx="444.64" cy="460.39" r="1.8" fill="#8db9e2"/><circle cx="446.73" cy="425.85" r="1.8" fill="#8db9e2"/><circle cx="420.24" cy="367.09" r="1.8" fill="#8db9e2"/><circle cx="444.54" cy="476.98" r="1.8" fill="#8db9e2"/><circle cx="445.50" cy="451.64" r="1.8" fill="#8db9e2"/><circle cx="440.73" cy="485.43" r="1.8" fill="#8db9e2"/><circle cx="420.05" cy="357.77" r="1.8" fill="#8db9e2"/><circle cx="442.29" cy="470.58" r="1.8" fill="#8db9e2"/><circle cx="418.32" cy="398.70" r="1.8" fill="#8db9e2"/><circle cx="424.49" cy="405.80" r="1.8" fill="#8db9e2"/><circle cx="434.06" cy="433.78" r="1.8" fill="#8db9e2"/><circle cx="440.56" cy="416.59" r="1.8" fill="#8db9e2"/><circle cx="419.52" cy="391.35" r="1.8" fill="#8db9e2"/><circle cx="436.99" cy="441.80" r="1.8" fill="#8db9e2"/><circle cx="443.56" cy="433.79" r="1.8" fill="#8db9e2"/><circle cx="430.72" cy="416.34" r="1.8" fill="#8db9e2"/><circle cx="452.57" cy="428.41" r="1.8" fill="#8db9e2"/><circle cx="442.43" cy="482.72" r="1.8" fill="#8db9e2"/><circle cx="411.78" cy="379.99" r="1.8" fill="#8db9e2"/><circle cx="423.77" cy="364.07" r="1.8" fill="#8db9e2"/><circle cx="440.04" cy="429.12" r="1.8" fill="#8db9e2"/><circle cx="422.98" cy="363.43" r="1.8" fill="#8db9e2"/><circle cx="435.73" cy="404.98" r="1.8" fill="#8db9e2"/><circle cx="427.84" cy="382.15" r="1.8" fill="#8db9e2"/><circle cx="449.55" cy="447.11" r="1.8" fill="#8db9e2"/><circle cx="415.32" cy="407.77" r="1.8" fill="#8db9e2"/><circle cx="417.68" cy="377.78" r="1.8" fill="#8db9e2"/><circle cx="444.71" cy="468.41" r="1.8" fill="#8db9e2"/><circle cx="421.33" cy="443.28" r="1.8" fill="#8db9e2"/><circle cx="425.63" cy="409.38" r="1.8" fill="#8db9e2"/><circle cx="444.76" cy="466.45" r="1.8" fill="#8db9e2"/><circle cx="433.83" cy="364.24" r="1.8" fill="#8db9e2"/><circle cx="452.11" cy="408.75" r="1.8" fill="#8db9e2"/><circle cx="439.10" cy="437.31" r="1.8" fill="#8db9e2"/><circle cx="441.98" cy="471.02" r="1.8" fill="#8db9e2"/><circle cx="444.36" cy="472.60" r="1.8" fill="#8db9e2"/><circle cx="438.62" cy="421.81" r="1.8" fill="#8db9e2"/><circle cx="508.33" cy="447.68" r="1.8" fill="#e7a4ab"/><circle cx="501.89" cy="376.67" r="1.8" fill="#e7a4ab"/><circle cx="480.34" cy="421.36" r="1.8" fill="#e7a4ab"/><circle cx="494.93" cy="417.59" r="1.8" fill="#e7a4ab"/><circle cx="504.36" cy="432.34" r="1.8" fill="#e7a4ab"/><circle cx="488.87" cy="406.05" r="1.8" fill="#e7a4ab"/><circle cx="496.42" cy="462.58" r="1.8" fill="#e7a4ab"/><circle cx="519.43" cy="409.74" r="1.8" fill="#e7a4ab"/><circle cx="506.11" cy="372.87" r="1.8" fill="#e7a4ab"/><circle cx="485.26" cy="406.24" r="1.8" fill="#e7a4ab"/><circle cx="511.46" cy="404.16" r="1.8" fill="#e7a4ab"/><circle cx="507.33" cy="394.49" r="1.8" fill="#e7a4ab"/><circle cx="503.65" cy="420.70" r="1.8" fill="#e7a4ab"/><circle cx="519.33" cy="391.20" r="1.8" fill="#e7a4ab"/><circle cx="509.38" cy="450.72" r="1.8" fill="#e7a4ab"/><circle cx="482.55" cy="427.89" r="1.8" fill="#e7a4ab"/><circle cx="507.85" cy="390.56" r="1.8" fill="#e7a4ab"/><circle cx="507.80" cy="451.38" r="1.8" fill="#e7a4ab"/><circle cx="484.55" cy="446.91" r="1.8" fill="#e7a4ab"/><circle cx="501.09" cy="422.41" r="1.8" fill="#e7a4ab"/><circle cx="512.31" cy="381.02" r="1.8" fill="#e7a4ab"/><circle cx="484.04" cy="450.36" r="1.8" fill="#e7a4ab"/><circle cx="497.67" cy="392.97" r="1.8" fill="#e7a4ab"/><circle cx="507.70" cy="411.07" r="1.8" fill="#e7a4ab"/><circle cx="504.23" cy="395.57" r="1.8" fill="#e7a4ab"/><circle cx="500.21" cy="391.13" r="1.8" fill="#e7a4ab"/><circle cx="514.16" cy="412.48" r="1.8" fill="#e7a4ab"/><circle cx="491.41" cy="429.80" r="1.8" fill="#e7a4ab"/><circle cx="482.76" cy="458.14" r="1.8" fill="#e7a4ab"/><circle cx="500.52" cy="459.00" r="1.8" fill="#e7a4ab"/><circle cx="509.15" cy="448.06" r="1.8" fill="#e7a4ab"/><circle cx="514.93" cy="433.62" r="1.8" fill="#e7a4ab"/><circle cx="499.29" cy="433.13" r="1.8" fill="#e7a4ab"/><circle cx="509.78" cy="393.38" r="1.8" fill="#e7a4ab"/><circle cx="508.70" cy="391.50" r="1.8" fill="#e7a4ab"/><circle cx="491.11" cy="444.01" r="1.8" fill="#e7a4ab"/><circle cx="498.35" cy="458.43" r="1.8" fill="#e7a4ab"/><circle cx="507.10" cy="448.48" r="1.8" fill="#e7a4ab"/><circle cx="482.56" cy="442.97" r="1.8" fill="#e7a4ab"/><circle cx="499.83" cy="452.00" r="1.8" fill="#e7a4ab"/><circle cx="516.73" cy="423.44" r="1.8" fill="#e7a4ab"/><circle cx="508.27" cy="424.40" r="1.8" fill="#e7a4ab"/><circle cx="504.86" cy="393.97" r="1.8" fill="#e7a4ab"/><circle cx="506.59" cy="417.74" r="1.8" fill="#e7a4ab"/><circle cx="501.40" cy="372.20" r="1.8" fill="#e7a4ab"/><circle cx="501.50" cy="416.65" r="1.8" fill="#e7a4ab"/><circle cx="503.01" cy="367.17" r="1.8" fill="#e7a4ab"/><circle cx="500.07" cy="434.23" r="1.8" fill="#e7a4ab"/><circle cx="485.09" cy="449.51" r="1.8" fill="#e7a4ab"/><circle cx="496.57" cy="373.07" r="1.8" fill="#e7a4ab"/><circle cx="486.68" cy="426.10" r="1.8" fill="#e7a4ab"/><circle cx="491.92" cy="456.60" r="1.8" fill="#e7a4ab"/><circle cx="505.04" cy="370.34" r="1.8" fill="#e7a4ab"/><circle cx="486.53" cy="398.26" r="1.8" fill="#e7a4ab"/><circle cx="484.47" cy="451.57" r="1.8" fill="#e7a4ab"/><circle cx="509.59" cy="421.61" r="1.8" fill="#e7a4ab"/><circle cx="498.22" cy="444.70" r="1.8" fill="#e7a4ab"/><circle cx="513.71" cy="411.78" r="1.8" fill="#e7a4ab"/><circle cx="503.60" cy="423.46" r="1.8" fill="#e7a4ab"/><circle cx="485.31" cy="448.23" r="1.8" fill="#e7a4ab"/><circle cx="492.23" cy="405.98" r="1.8" fill="#e7a4ab"/><circle cx="499.64" cy="417.85" r="1.8" fill="#e7a4ab"/><circle cx="485.60" cy="397.30" r="1.8" fill="#e7a4ab"/><circle cx="498.45" cy="398.21" r="1.8" fill="#e7a4ab"/><circle cx="512.63" cy="433.38" r="1.8" fill="#e7a4ab"/><circle cx="497.80" cy="456.43" r="1.8" fill="#e7a4ab"/><circle cx="508.74" cy="423.50" r="1.8" fill="#e7a4ab"/><circle cx="511.94" cy="368.75" r="1.8" fill="#e7a4ab"/><circle cx="519.91" cy="389.04" r="1.8" fill="#e7a4ab"/><circle cx="489.41" cy="431.56" r="1.8" fill="#e7a4ab"/><circle cx="508.60" cy="448.47" r="1.8" fill="#e7a4ab"/><circle cx="489.09" cy="427.26" r="1.8" fill="#e7a4ab"/><circle cx="492.40" cy="428.90" r="1.8" fill="#e7a4ab"/><circle cx="481.59" cy="432.50" r="1.8" fill="#e7a4ab"/><circle cx="498.58" cy="387.50" r="1.8" fill="#e7a4ab"/><circle cx="483.83" cy="441.29" r="1.8" fill="#e7a4ab"/><circle cx="508.51" cy="377.89" r="1.8" fill="#e7a4ab"/><circle cx="498.01" cy="445.07" r="1.8" fill="#e7a4ab"/><circle cx="486.16" cy="457.25" r="1.8" fill="#e7a4ab"/><circle cx="484.70" cy="447.60" r="1.8" fill="#e7a4ab"/><circle cx="486.32" cy="444.19" r="1.8" fill="#e7a4ab"/><circle cx="500.04" cy="396.95" r="1.8" fill="#e7a4ab"/><circle cx="496.11" cy="408.53" r="1.8" fill="#e7a4ab"/><circle cx="508.92" cy="433.42" r="1.8" fill="#e7a4ab"/><circle cx="513.44" cy="372.42" r="1.8" fill="#e7a4ab"/><circle cx="512.59" cy="380.42" r="1.8" fill="#e7a4ab"/><circle cx="512.68" cy="414.06" r="1.8" fill="#e7a4ab"/><circle cx="499.37" cy="426.58" r="1.8" fill="#e7a4ab"/><circle cx="499.92" cy="408.26" r="1.8" fill="#e7a4ab"/><circle cx="502.07" cy="376.80" r="1.8" fill="#e7a4ab"/><circle cx="499.75" cy="381.48" r="1.8" fill="#e7a4ab"/><circle cx="507.32" cy="379.76" r="1.8" fill="#e7a4ab"/><circle cx="519.28" cy="382.67" r="1.8" fill="#e7a4ab"/><circle cx="506.95" cy="369.03" r="1.8" fill="#e7a4ab"/><circle cx="487.08" cy="438.89" r="1.8" fill="#e7a4ab"/><circle cx="502.50" cy="439.63" r="1.8" fill="#e7a4ab"/><circle cx="492.96" cy="452.47" r="1.8" fill="#e7a4ab"/><circle cx="492.71" cy="429.14" r="1.8" fill="#e7a4ab"/><circle cx="511.17" cy="394.04" r="1.8" fill="#e7a4ab"/><circle cx="491.27" cy="463.33" r="1.8" fill="#e7a4ab"/><circle cx="506.93" cy="368.72" r="1.8" fill="#e7a4ab"/><circle cx="499.26" cy="432.59" r="1.8" fill="#e7a4ab"/><circle cx="498.95" cy="397.68" r="1.8" fill="#e7a4ab"/><circle cx="507.77" cy="442.21" r="1.8" fill="#e7a4ab"/><circle cx="520.66" cy="419.59" r="1.8" fill="#e7a4ab"/><circle cx="497.40" cy="371.62" r="1.8" fill="#e7a4ab"/><circle cx="512.59" cy="413.25" r="1.8" fill="#e7a4ab"/><circle cx="509.85" cy="437.19" r="1.8" fill="#e7a4ab"/><circle cx="519.24" cy="406.71" r="1.8" fill="#e7a4ab"/><circle cx="488.88" cy="430.12" r="1.8" fill="#e7a4ab"/><circle cx="493.02" cy="404.27" r="1.8" fill="#e7a4ab"/><circle cx="491.70" cy="422.62" r="1.8" fill="#e7a4ab"/><circle cx="508.28" cy="439.62" r="1.8" fill="#e7a4ab"/><circle cx="486.09" cy="448.34" r="1.8" fill="#e7a4ab"/><circle cx="485.79" cy="448.69" r="1.8" fill="#e7a4ab"/><ellipse cx="435.75" cy="417.7" rx="23.2" ry="83.9" transform="rotate(-10.4 435.75 417.7)" fill="none" stroke="#88b6e0" stroke-width="1.6"/><ellipse cx="500.25" cy="415.75" rx="24.2" ry="61.2" transform="rotate(10.25 500.25 415.75)" fill="none" stroke="#e2a1a7" stroke-width="1.6"/><rect x="406.5" y="325.5" width="120.70000000000005" height="179.10000000000002" fill="none" stroke="#111" stroke-width="1.2"/><text x="405.4" y="365.09999999999997" font-size="11.8" font-weight="bold" font-style="normal" fill="#000" text-anchor="end" >40</text><text x="404.6" y="419.9" font-size="11.8" font-weight="bold" font-style="normal" fill="#000" text-anchor="end" >0</text><text x="406.2" y="472.2" font-size="11.8" font-weight="bold" font-style="normal" fill="#000" text-anchor="end" >−40</text><text x="415.4" y="520.6" font-size="11.6" font-weight="bold" font-style="normal" fill="#000" text-anchor="middle" >−50</text><text x="446.5" y="520.6" font-size="11.6" font-weight="bold" font-style="normal" fill="#000" text-anchor="middle" >0</text><text x="486.5" y="520.6" font-size="11.6" font-weight="bold" font-style="normal" fill="#000" text-anchor="middle" >50</text><text x="522.0" y="520.6" font-size="11.6" font-weight="bold" font-style="normal" fill="#000" text-anchor="middle" >100</text><text x="476.6" y="534.5" font-size="11.6" font-weight="bold" font-style="normal" fill="#000" text-anchor="middle" >PC1</text><text x="0" y="0" font-size="11.6" font-weight="bold" text-anchor="middle" transform="translate(393.2 425.5) rotate(-90)">PC2</text><text x="521.3" y="323.2" font-size="12.6" font-weight="bold" font-style="normal" fill="#000" text-anchor="start" textLength="162.8" lengthAdjust="spacingAndGlyphs" >alternative polyadenylation</text><circle cx="590.66" cy="411.08" r="1.8" fill="#e7a4ab"/><circle cx="606.67" cy="360.09" r="1.8" fill="#e7a4ab"/><circle cx="599.95" cy="400.60" r="1.8" fill="#e7a4ab"/><circle cx="603.50" cy="405.63" r="1.8" fill="#e7a4ab"/><circle cx="617.61" cy="381.62" r="1.8" fill="#e7a4ab"/><circle cx="598.44" cy="377.03" r="1.8" fill="#e7a4ab"/><circle cx="614.07" cy="373.70" r="1.8" fill="#e7a4ab"/><circle cx="612.98" cy="406.62" r="1.8" fill="#e7a4ab"/><circle cx="598.13" cy="399.46" r="1.8" fill="#e7a4ab"/><circle cx="603.73" cy="404.55" r="1.8" fill="#e7a4ab"/><circle cx="634.00" cy="369.66" r="1.8" fill="#e7a4ab"/><circle cx="599.51" cy="386.39" r="1.8" fill="#e7a4ab"/><circle cx="627.86" cy="372.51" r="1.8" fill="#e7a4ab"/><circle cx="596.60" cy="383.72" r="1.8" fill="#e7a4ab"/><circle cx="619.91" cy="387.78" r="1.8" fill="#e7a4ab"/><circle cx="621.18" cy="347.97" r="1.8" fill="#e7a4ab"/><circle cx="628.48" cy="346.80" r="1.8" fill="#e7a4ab"/><circle cx="629.81" cy="372.54" r="1.8" fill="#e7a4ab"/><circle cx="608.18" cy="388.82" r="1.8" fill="#e7a4ab"/><circle cx="611.66" cy="415.43" r="1.8" fill="#e7a4ab"/><circle cx="629.75" cy="369.47" r="1.8" fill="#e7a4ab"/><circle cx="630.01" cy="365.79" r="1.8" fill="#e7a4ab"/><circle cx="604.44" cy="400.44" r="1.8" fill="#e7a4ab"/><circle cx="625.55" cy="351.10" r="1.8" fill="#e7a4ab"/><circle cx="609.24" cy="387.37" r="1.8" fill="#e7a4ab"/><circle cx="617.27" cy="374.34" r="1.8" fill="#e7a4ab"/><circle cx="612.66" cy="384.94" r="1.8" fill="#e7a4ab"/><circle cx="635.48" cy="354.38" r="1.8" fill="#e7a4ab"/><circle cx="611.28" cy="384.54" r="1.8" fill="#e7a4ab"/><circle cx="631.49" cy="370.70" r="1.8" fill="#e7a4ab"/><circle cx="629.25" cy="369.14" r="1.8" fill="#e7a4ab"/><circle cx="612.00" cy="413.64" r="1.8" fill="#e7a4ab"/><circle cx="610.32" cy="394.30" r="1.8" fill="#e7a4ab"/><circle cx="605.99" cy="395.18" r="1.8" fill="#e7a4ab"/><circle cx="600.67" cy="399.51" r="1.8" fill="#e7a4ab"/><circle cx="598.69" cy="402.87" r="1.8" fill="#e7a4ab"/><circle cx="619.21" cy="374.18" r="1.8" fill="#e7a4ab"/><circle cx="619.13" cy="353.54" r="1.8" fill="#e7a4ab"/><circle cx="612.11" cy="386.87" r="1.8" fill="#e7a4ab"/><circle cx="602.04" cy="397.67" r="1.8" fill="#e7a4ab"/><circle cx="634.40" cy="362.05" r="1.8" fill="#e7a4ab"/><circle cx="613.03" cy="397.68" r="1.8" fill="#e7a4ab"/><circle cx="627.19" cy="369.43" r="1.8" fill="#e7a4ab"/><circle cx="623.80" cy="364.80" r="1.8" fill="#e7a4ab"/><circle cx="637.37" cy="364.50" r="1.8" fill="#e7a4ab"/><circle cx="624.80" cy="391.81" r="1.8" fill="#e7a4ab"/><circle cx="621.35" cy="383.60" r="1.8" fill="#e7a4ab"/><circle cx="600.23" cy="402.62" r="1.8" fill="#e7a4ab"/><circle cx="631.56" cy="361.55" r="1.8" fill="#e7a4ab"/><circle cx="611.59" cy="386.63" r="1.8" fill="#e7a4ab"/><circle cx="611.33" cy="383.44" r="1.8" fill="#e7a4ab"/><circle cx="611.48" cy="404.40" r="1.8" fill="#e7a4ab"/><circle cx="610.16" cy="391.42" r="1.8" fill="#e7a4ab"/><circle cx="620.06" cy="379.49" r="1.8" fill="#e7a4ab"/><circle cx="634.26" cy="352.33" r="1.8" fill="#e7a4ab"/><circle cx="587.88" cy="407.28" r="1.8" fill="#e7a4ab"/><circle cx="614.90" cy="362.79" r="1.8" fill="#e7a4ab"/><circle cx="595.81" cy="407.55" r="1.8" fill="#e7a4ab"/><circle cx="634.83" cy="371.26" r="1.8" fill="#e7a4ab"/><circle cx="594.66" cy="414.18" r="1.8" fill="#e7a4ab"/><circle cx="619.74" cy="383.08" r="1.8" fill="#e7a4ab"/><circle cx="611.89" cy="387.63" r="1.8" fill="#e7a4ab"/><circle cx="612.52" cy="385.85" r="1.8" fill="#e7a4ab"/><circle cx="604.40" cy="411.41" r="1.8" fill="#e7a4ab"/><circle cx="625.70" cy="361.52" r="1.8" fill="#e7a4ab"/><circle cx="612.86" cy="379.63" r="1.8" fill="#e7a4ab"/><circle cx="596.89" cy="408.68" r="1.8" fill="#e7a4ab"/><circle cx="630.57" cy="372.43" r="1.8" fill="#e7a4ab"/><circle cx="595.41" cy="403.97" r="1.8" fill="#e7a4ab"/><circle cx="629.69" cy="369.25" r="1.8" fill="#e7a4ab"/><circle cx="597.05" cy="397.05" r="1.8" fill="#e7a4ab"/><circle cx="629.85" cy="376.50" r="1.8" fill="#e7a4ab"/><circle cx="609.75" cy="387.86" r="1.8" fill="#e7a4ab"/><circle cx="597.66" cy="389.67" r="1.8" fill="#e7a4ab"/><circle cx="597.37" cy="404.97" r="1.8" fill="#e7a4ab"/><circle cx="598.09" cy="408.19" r="1.8" fill="#e7a4ab"/><circle cx="603.14" cy="392.63" r="1.8" fill="#e7a4ab"/><circle cx="598.88" cy="415.08" r="1.8" fill="#e7a4ab"/><circle cx="619.86" cy="365.37" r="1.8" fill="#e7a4ab"/><circle cx="615.68" cy="361.66" r="1.8" fill="#e7a4ab"/><circle cx="623.94" cy="384.07" r="1.8" fill="#e7a4ab"/><circle cx="603.43" cy="394.20" r="1.8" fill="#e7a4ab"/><circle cx="604.98" cy="395.64" r="1.8" fill="#e7a4ab"/><circle cx="597.64" cy="377.75" r="1.8" fill="#e7a4ab"/><circle cx="587.29" cy="411.99" r="1.8" fill="#e7a4ab"/><circle cx="598.24" cy="400.58" r="1.8" fill="#e7a4ab"/><circle cx="611.43" cy="379.43" r="1.8" fill="#e7a4ab"/><circle cx="602.74" cy="384.09" r="1.8" fill="#e7a4ab"/><circle cx="592.02" cy="412.17" r="1.8" fill="#e7a4ab"/><circle cx="586.43" cy="412.38" r="1.8" fill="#e7a4ab"/><circle cx="632.15" cy="363.72" r="1.8" fill="#e7a4ab"/><circle cx="597.69" cy="413.86" r="1.8" fill="#e7a4ab"/><circle cx="614.71" cy="388.00" r="1.8" fill="#e7a4ab"/><circle cx="614.25" cy="379.52" r="1.8" fill="#e7a4ab"/><circle cx="613.60" cy="381.77" r="1.8" fill="#e7a4ab"/><circle cx="611.73" cy="369.58" r="1.8" fill="#e7a4ab"/><circle cx="619.98" cy="399.92" r="1.8" fill="#e7a4ab"/><circle cx="598.48" cy="417.85" r="1.8" fill="#e7a4ab"/><circle cx="625.97" cy="372.59" r="1.8" fill="#e7a4ab"/><circle cx="626.82" cy="391.91" r="1.8" fill="#e7a4ab"/><circle cx="597.29" cy="404.33" r="1.8" fill="#e7a4ab"/><circle cx="598.84" cy="387.80" r="1.8" fill="#e7a4ab"/><circle cx="611.78" cy="406.07" r="1.8" fill="#e7a4ab"/><circle cx="606.21" cy="370.41" r="1.8" fill="#e7a4ab"/><circle cx="596.77" cy="404.39" r="1.8" fill="#e7a4ab"/><circle cx="605.49" cy="380.74" r="1.8" fill="#e7a4ab"/><circle cx="629.28" cy="358.50" r="1.8" fill="#e7a4ab"/><circle cx="596.99" cy="421.40" r="1.8" fill="#e7a4ab"/><circle cx="609.43" cy="387.53" r="1.8" fill="#e7a4ab"/><circle cx="611.05" cy="365.28" r="1.8" fill="#e7a4ab"/><circle cx="649.46" cy="477.36" r="1.8" fill="#8db9e2"/><circle cx="641.00" cy="426.88" r="1.8" fill="#8db9e2"/><circle cx="647.83" cy="444.61" r="1.8" fill="#8db9e2"/><circle cx="640.05" cy="463.62" r="1.8" fill="#8db9e2"/><circle cx="665.63" cy="461.70" r="1.8" fill="#8db9e2"/><circle cx="660.41" cy="478.80" r="1.8" fill="#8db9e2"/><circle cx="651.64" cy="458.67" r="1.8" fill="#8db9e2"/><circle cx="636.08" cy="441.85" r="1.8" fill="#8db9e2"/><circle cx="656.15" cy="489.97" r="1.8" fill="#8db9e2"/><circle cx="632.05" cy="446.26" r="1.8" fill="#8db9e2"/><circle cx="662.57" cy="447.01" r="1.8" fill="#8db9e2"/><circle cx="658.68" cy="473.89" r="1.8" fill="#8db9e2"/><circle cx="651.71" cy="459.87" r="1.8" fill="#8db9e2"/><circle cx="652.86" cy="462.44" r="1.8" fill="#8db9e2"/><circle cx="649.83" cy="452.08" r="1.8" fill="#8db9e2"/><circle cx="642.82" cy="443.00" r="1.8" fill="#8db9e2"/><circle cx="657.06" cy="472.42" r="1.8" fill="#8db9e2"/><circle cx="642.45" cy="438.26" r="1.8" fill="#8db9e2"/><circle cx="656.63" cy="473.87" r="1.8" fill="#8db9e2"/><circle cx="654.36" cy="475.05" r="1.8" fill="#8db9e2"/><circle cx="660.99" cy="477.33" r="1.8" fill="#8db9e2"/><circle cx="651.02" cy="473.36" r="1.8" fill="#8db9e2"/><circle cx="651.80" cy="458.59" r="1.8" fill="#8db9e2"/><circle cx="657.81" cy="475.36" r="1.8" fill="#8db9e2"/><circle cx="639.77" cy="428.17" r="1.8" fill="#8db9e2"/><circle cx="644.26" cy="450.85" r="1.8" fill="#8db9e2"/><circle cx="654.83" cy="466.61" r="1.8" fill="#8db9e2"/><circle cx="665.33" cy="479.37" r="1.8" fill="#8db9e2"/><circle cx="667.14" cy="481.85" r="1.8" fill="#8db9e2"/><circle cx="655.90" cy="491.97" r="1.8" fill="#8db9e2"/><circle cx="665.19" cy="486.67" r="1.8" fill="#8db9e2"/><circle cx="654.46" cy="436.42" r="1.8" fill="#8db9e2"/><circle cx="646.24" cy="441.77" r="1.8" fill="#8db9e2"/><circle cx="652.27" cy="464.96" r="1.8" fill="#8db9e2"/><circle cx="669.06" cy="478.83" r="1.8" fill="#8db9e2"/><circle cx="667.60" cy="462.77" r="1.8" fill="#8db9e2"/><circle cx="649.88" cy="463.95" r="1.8" fill="#8db9e2"/><circle cx="643.26" cy="460.56" r="1.8" fill="#8db9e2"/><circle cx="646.42" cy="445.88" r="1.8" fill="#8db9e2"/><circle cx="644.72" cy="431.33" r="1.8" fill="#8db9e2"/><circle cx="641.80" cy="436.67" r="1.8" fill="#8db9e2"/><circle cx="637.95" cy="445.86" r="1.8" fill="#8db9e2"/><circle cx="661.10" cy="464.26" r="1.8" fill="#8db9e2"/><circle cx="637.35" cy="450.50" r="1.8" fill="#8db9e2"/><circle cx="657.65" cy="469.43" r="1.8" fill="#8db9e2"/><circle cx="645.13" cy="464.80" r="1.8" fill="#8db9e2"/><circle cx="665.22" cy="453.18" r="1.8" fill="#8db9e2"/><circle cx="658.54" cy="473.62" r="1.8" fill="#8db9e2"/><circle cx="637.79" cy="438.69" r="1.8" fill="#8db9e2"/><circle cx="657.08" cy="474.96" r="1.8" fill="#8db9e2"/><circle cx="642.94" cy="449.59" r="1.8" fill="#8db9e2"/><circle cx="642.29" cy="452.99" r="1.8" fill="#8db9e2"/><circle cx="654.36" cy="442.22" r="1.8" fill="#8db9e2"/><circle cx="646.53" cy="442.65" r="1.8" fill="#8db9e2"/><circle cx="650.78" cy="485.64" r="1.8" fill="#8db9e2"/><circle cx="638.99" cy="474.90" r="1.8" fill="#8db9e2"/><circle cx="651.17" cy="482.03" r="1.8" fill="#8db9e2"/><circle cx="651.34" cy="465.35" r="1.8" fill="#8db9e2"/><circle cx="638.43" cy="454.15" r="1.8" fill="#8db9e2"/><circle cx="641.80" cy="438.04" r="1.8" fill="#8db9e2"/><circle cx="639.85" cy="438.54" r="1.8" fill="#8db9e2"/><circle cx="628.93" cy="449.29" r="1.8" fill="#8db9e2"/><circle cx="656.50" cy="469.60" r="1.8" fill="#8db9e2"/><circle cx="643.28" cy="469.55" r="1.8" fill="#8db9e2"/><circle cx="644.92" cy="483.37" r="1.8" fill="#8db9e2"/><circle cx="657.27" cy="465.05" r="1.8" fill="#8db9e2"/><circle cx="654.64" cy="467.14" r="1.8" fill="#8db9e2"/><circle cx="661.26" cy="467.78" r="1.8" fill="#8db9e2"/><circle cx="635.05" cy="442.27" r="1.8" fill="#8db9e2"/><circle cx="656.88" cy="472.76" r="1.8" fill="#8db9e2"/><circle cx="638.34" cy="440.18" r="1.8" fill="#8db9e2"/><circle cx="644.57" cy="434.80" r="1.8" fill="#8db9e2"/><circle cx="652.45" cy="475.41" r="1.8" fill="#8db9e2"/><circle cx="654.46" cy="442.35" r="1.8" fill="#8db9e2"/><circle cx="630.82" cy="441.84" r="1.8" fill="#8db9e2"/><circle cx="648.60" cy="464.15" r="1.8" fill="#8db9e2"/><circle cx="633.43" cy="442.65" r="1.8" fill="#8db9e2"/><circle cx="645.55" cy="482.23" r="1.8" fill="#8db9e2"/><circle cx="636.98" cy="436.76" r="1.8" fill="#8db9e2"/><circle cx="648.34" cy="445.13" r="1.8" fill="#8db9e2"/><circle cx="649.63" cy="458.15" r="1.8" fill="#8db9e2"/><circle cx="652.11" cy="456.39" r="1.8" fill="#8db9e2"/><circle cx="642.83" cy="438.00" r="1.8" fill="#8db9e2"/><circle cx="659.46" cy="474.28" r="1.8" fill="#8db9e2"/><circle cx="656.21" cy="468.79" r="1.8" fill="#8db9e2"/><circle cx="653.61" cy="468.78" r="1.8" fill="#8db9e2"/><circle cx="656.07" cy="470.79" r="1.8" fill="#8db9e2"/><circle cx="644.79" cy="453.97" r="1.8" fill="#8db9e2"/><circle cx="643.94" cy="443.81" r="1.8" fill="#8db9e2"/><circle cx="653.80" cy="462.40" r="1.8" fill="#8db9e2"/><circle cx="650.92" cy="471.84" r="1.8" fill="#8db9e2"/><circle cx="635.37" cy="436.60" r="1.8" fill="#8db9e2"/><circle cx="637.09" cy="451.62" r="1.8" fill="#8db9e2"/><circle cx="639.29" cy="454.05" r="1.8" fill="#8db9e2"/><circle cx="642.28" cy="437.29" r="1.8" fill="#8db9e2"/><circle cx="664.65" cy="477.03" r="1.8" fill="#8db9e2"/><circle cx="636.35" cy="440.34" r="1.8" fill="#8db9e2"/><circle cx="654.19" cy="471.83" r="1.8" fill="#8db9e2"/><circle cx="640.94" cy="428.70" r="1.8" fill="#8db9e2"/><circle cx="644.80" cy="445.42" r="1.8" fill="#8db9e2"/><circle cx="656.20" cy="469.32" r="1.8" fill="#8db9e2"/><circle cx="651.31" cy="481.01" r="1.8" fill="#8db9e2"/><circle cx="655.95" cy="458.02" r="1.8" fill="#8db9e2"/><circle cx="669.80" cy="480.95" r="1.8" fill="#8db9e2"/><circle cx="655.97" cy="468.77" r="1.8" fill="#8db9e2"/><circle cx="638.93" cy="470.31" r="1.8" fill="#8db9e2"/><circle cx="651.91" cy="453.41" r="1.8" fill="#8db9e2"/><circle cx="661.66" cy="463.71" r="1.8" fill="#8db9e2"/><circle cx="648.43" cy="428.68" r="1.8" fill="#8db9e2"/><circle cx="649.51" cy="477.00" r="1.8" fill="#8db9e2"/><circle cx="663.75" cy="447.11" r="1.8" fill="#8db9e2"/><circle cx="671.13" cy="461.45" r="1.8" fill="#8db9e2"/><circle cx="641.76" cy="442.66" r="1.8" fill="#8db9e2"/><circle cx="651.17" cy="467.68" r="1.8" fill="#8db9e2"/><circle cx="663.19" cy="455.68" r="1.8" fill="#8db9e2"/><circle cx="653.66" cy="450.13" r="1.8" fill="#8db9e2"/><circle cx="657.50" cy="459.82" r="1.8" fill="#8db9e2"/><circle cx="649.85" cy="458.86" r="1.8" fill="#8db9e2"/><circle cx="659.33" cy="471.19" r="1.8" fill="#8db9e2"/><circle cx="669.88" cy="465.13" r="1.8" fill="#8db9e2"/><circle cx="650.92" cy="482.22" r="1.8" fill="#8db9e2"/><circle cx="651.88" cy="467.46" r="1.8" fill="#8db9e2"/><circle cx="654.63" cy="473.06" r="1.8" fill="#8db9e2"/><circle cx="657.59" cy="460.91" r="1.8" fill="#8db9e2"/><circle cx="641.01" cy="436.50" r="1.8" fill="#8db9e2"/><circle cx="653.72" cy="457.22" r="1.8" fill="#8db9e2"/><circle cx="654.71" cy="454.44" r="1.8" fill="#8db9e2"/><circle cx="642.37" cy="431.58" r="1.8" fill="#8db9e2"/><circle cx="631.25" cy="443.62" r="1.8" fill="#8db9e2"/><circle cx="647.98" cy="448.70" r="1.8" fill="#8db9e2"/><circle cx="653.68" cy="471.46" r="1.8" fill="#8db9e2"/><circle cx="663.00" cy="461.33" r="1.8" fill="#8db9e2"/><circle cx="657.09" cy="472.54" r="1.8" fill="#8db9e2"/><circle cx="649.97" cy="458.90" r="1.8" fill="#8db9e2"/><circle cx="655.04" cy="461.54" r="1.8" fill="#8db9e2"/><circle cx="651.18" cy="470.67" r="1.8" fill="#8db9e2"/><circle cx="653.33" cy="459.24" r="1.8" fill="#8db9e2"/><circle cx="655.31" cy="473.58" r="1.8" fill="#8db9e2"/><circle cx="638.78" cy="432.85" r="1.8" fill="#8db9e2"/><circle cx="643.81" cy="477.50" r="1.8" fill="#8db9e2"/><circle cx="656.69" cy="435.93" r="1.8" fill="#8db9e2"/><circle cx="648.39" cy="462.73" r="1.8" fill="#8db9e2"/><circle cx="634.48" cy="439.23" r="1.8" fill="#8db9e2"/><circle cx="652.35" cy="475.96" r="1.8" fill="#8db9e2"/><circle cx="659.63" cy="452.72" r="1.8" fill="#8db9e2"/><circle cx="646.84" cy="460.07" r="1.8" fill="#8db9e2"/><circle cx="639.76" cy="427.16" r="1.8" fill="#8db9e2"/><circle cx="643.74" cy="441.48" r="1.8" fill="#8db9e2"/><circle cx="653.15" cy="464.70" r="1.8" fill="#8db9e2"/><circle cx="658.39" cy="477.85" r="1.8" fill="#8db9e2"/><circle cx="664.87" cy="480.94" r="1.8" fill="#8db9e2"/><circle cx="645.61" cy="450.76" r="1.8" fill="#8db9e2"/><circle cx="646.95" cy="446.35" r="1.8" fill="#8db9e2"/><circle cx="649.32" cy="463.99" r="1.8" fill="#8db9e2"/><circle cx="648.22" cy="447.20" r="1.8" fill="#8db9e2"/><circle cx="644.81" cy="460.91" r="1.8" fill="#8db9e2"/><circle cx="653.72" cy="462.48" r="1.8" fill="#8db9e2"/><circle cx="662.77" cy="466.65" r="1.8" fill="#8db9e2"/><circle cx="651.86" cy="450.98" r="1.8" fill="#8db9e2"/><circle cx="630.99" cy="436.55" r="1.8" fill="#8db9e2"/><circle cx="642.45" cy="438.26" r="1.8" fill="#8db9e2"/><circle cx="660.56" cy="486.80" r="1.8" fill="#8db9e2"/><circle cx="657.08" cy="442.59" r="1.8" fill="#8db9e2"/><circle cx="646.96" cy="441.24" r="1.8" fill="#8db9e2"/><circle cx="663.43" cy="483.19" r="1.8" fill="#8db9e2"/><ellipse cx="612.3" cy="384.4" rx="21.5" ry="51.1" transform="rotate(28.0 612.3 384.4)" fill="none" stroke="#e2a1a7" stroke-width="1.6"/><ellipse cx="651.7" cy="460.2" rx="21.6" ry="44.2" transform="rotate(-25.9 651.7 460.2)" fill="none" stroke="#88b6e0" stroke-width="1.6"/><rect x="560.5" y="325.5" width="122.79999999999995" height="179.10000000000002" fill="none" stroke="#111" stroke-width="1.2"/><text x="559.7" y="336.09999999999997" font-size="11.8" font-weight="bold" font-style="normal" fill="#000" text-anchor="end" >100</text><text x="556.0" y="376.3" font-size="11.8" font-weight="bold" font-style="normal" fill="#000" text-anchor="end" >50</text><text x="552.4" y="416.2" font-size="11.8" font-weight="bold" font-style="normal" fill="#000" text-anchor="end" >0</text><text x="558.9" y="456.5" font-size="11.8" font-weight="bold" font-style="normal" fill="#000" text-anchor="end" >−50</text><text x="559.7" y="498.2" font-size="11.8" font-weight="bold" font-style="normal" fill="#000" text-anchor="end" >−100</text><text x="593.1" y="516.0" font-size="11.6" font-weight="bold" font-style="normal" fill="#000" text-anchor="middle" >−100</text><text x="627.7" y="516.0" font-size="11.6" font-weight="bold" font-style="normal" fill="#000" text-anchor="middle" >0</text><text x="669.9" y="516.0" font-size="11.6" font-weight="bold" font-style="normal" fill="#000" text-anchor="middle" >100</text><text x="627.4" y="535.0" font-size="11.6" font-weight="bold" font-style="normal" fill="#000" text-anchor="middle" >PC1</text><text x="0" y="0" font-size="12.0" font-weight="bold" text-anchor="middle" transform="translate(540.8 433.9) rotate(-90)">PC2</text></svg></body></html>
